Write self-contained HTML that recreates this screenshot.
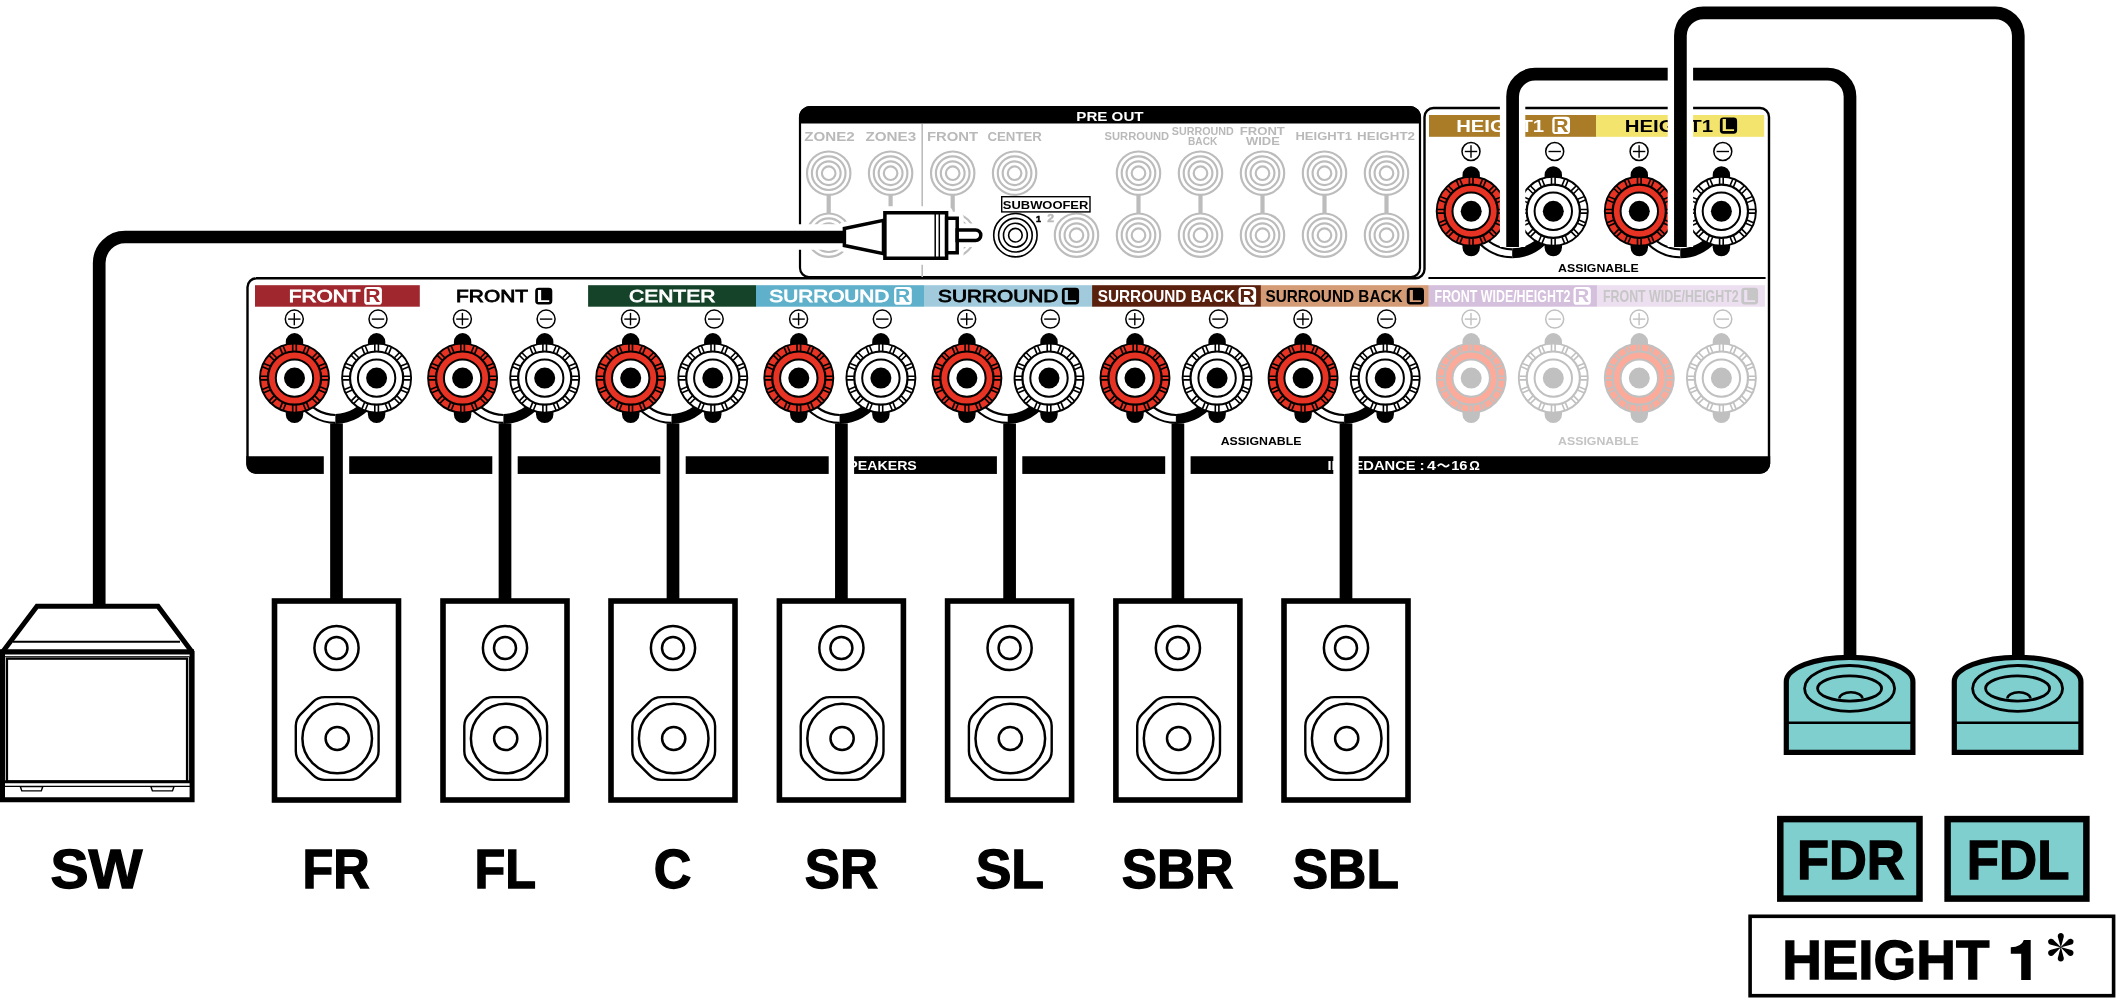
<!DOCTYPE html><html><head><meta charset="utf-8"><title>Speaker connection</title><style>html,body{margin:0;padding:0;background:#fff}svg{display:block;will-change:transform}</style></head><body><svg width="2116" height="998" viewBox="0 0 2116 998" font-family='"Liberation Sans", sans-serif'>
<rect width="2116" height="998" fill="#fff"/>
<g id="preout">
<path d="M800 268V117.5a10.5 10.5 0 0 1 10.5 -10.5H1409.5a10.5 10.5 0 0 1 10.5 10.5V268a9 9 0 0 1 -9 9H809a9 9 0 0 1 -9 -9" fill="#fff" stroke="#000" stroke-width="2.2"/>
<path d="M799 123.5V117.5a11.5 11.5 0 0 1 11.5 -11.5H1409.5a11.5 11.5 0 0 1 11.5 11.5V123.5Z" fill="#000"/>
<text transform="translate(1076.28,120.90) scale(1.2126,1)" font-size="12.50" font-weight="bold" fill="#fff" >PRE OUT</text>
<path d="M922.2 124V277" stroke="#bcbcbc" stroke-width="1.6"/>
<path d="M828.7 194.2V214.2" stroke="#bcbcbc" stroke-width="4.2"/>
<path d="M890.6 194.2V214.2" stroke="#bcbcbc" stroke-width="4.2"/>
<path d="M952.7 194.2V214.2" stroke="#bcbcbc" stroke-width="4.2"/>
<path d="M1138.5 194.2V214.2" stroke="#bcbcbc" stroke-width="4.2"/>
<path d="M1200.5 194.2V214.2" stroke="#bcbcbc" stroke-width="4.2"/>
<path d="M1262.5 194.2V214.2" stroke="#bcbcbc" stroke-width="4.2"/>
<path d="M1324.5 194.2V214.2" stroke="#bcbcbc" stroke-width="4.2"/>
<path d="M1386.5 194.2V214.2" stroke="#bcbcbc" stroke-width="4.2"/>
<circle cx="828.70" cy="173.20" r="21.7" fill="#fff" stroke="#bcbcbc" stroke-width="2.15"/><circle cx="828.70" cy="173.20" r="16.8" fill="#fff" stroke="#bcbcbc" stroke-width="2.15"/><circle cx="828.70" cy="173.20" r="11.9" fill="#fff" stroke="#bcbcbc" stroke-width="2.15"/><circle cx="828.70" cy="173.20" r="6.8" fill="#fff" stroke="#bcbcbc" stroke-width="2.15"/>
<circle cx="828.70" cy="235.20" r="21.7" fill="#fff" stroke="#bcbcbc" stroke-width="2.15"/><circle cx="828.70" cy="235.20" r="16.8" fill="#fff" stroke="#bcbcbc" stroke-width="2.15"/><circle cx="828.70" cy="235.20" r="11.9" fill="#fff" stroke="#bcbcbc" stroke-width="2.15"/><circle cx="828.70" cy="235.20" r="6.8" fill="#fff" stroke="#bcbcbc" stroke-width="2.15"/>
<circle cx="890.60" cy="173.20" r="21.7" fill="#fff" stroke="#bcbcbc" stroke-width="2.15"/><circle cx="890.60" cy="173.20" r="16.8" fill="#fff" stroke="#bcbcbc" stroke-width="2.15"/><circle cx="890.60" cy="173.20" r="11.9" fill="#fff" stroke="#bcbcbc" stroke-width="2.15"/><circle cx="890.60" cy="173.20" r="6.8" fill="#fff" stroke="#bcbcbc" stroke-width="2.15"/>
<circle cx="890.60" cy="235.20" r="21.7" fill="#fff" stroke="#bcbcbc" stroke-width="2.15"/><circle cx="890.60" cy="235.20" r="16.8" fill="#fff" stroke="#bcbcbc" stroke-width="2.15"/><circle cx="890.60" cy="235.20" r="11.9" fill="#fff" stroke="#bcbcbc" stroke-width="2.15"/><circle cx="890.60" cy="235.20" r="6.8" fill="#fff" stroke="#bcbcbc" stroke-width="2.15"/>
<circle cx="952.70" cy="173.20" r="21.7" fill="#fff" stroke="#bcbcbc" stroke-width="2.15"/><circle cx="952.70" cy="173.20" r="16.8" fill="#fff" stroke="#bcbcbc" stroke-width="2.15"/><circle cx="952.70" cy="173.20" r="11.9" fill="#fff" stroke="#bcbcbc" stroke-width="2.15"/><circle cx="952.70" cy="173.20" r="6.8" fill="#fff" stroke="#bcbcbc" stroke-width="2.15"/>
<circle cx="952.70" cy="235.20" r="21.7" fill="#fff" stroke="#bcbcbc" stroke-width="2.15"/><circle cx="952.70" cy="235.20" r="16.8" fill="#fff" stroke="#bcbcbc" stroke-width="2.15"/><circle cx="952.70" cy="235.20" r="11.9" fill="#fff" stroke="#bcbcbc" stroke-width="2.15"/><circle cx="952.70" cy="235.20" r="6.8" fill="#fff" stroke="#bcbcbc" stroke-width="2.15"/>
<circle cx="1014.60" cy="173.20" r="21.7" fill="#fff" stroke="#bcbcbc" stroke-width="2.15"/><circle cx="1014.60" cy="173.20" r="16.8" fill="#fff" stroke="#bcbcbc" stroke-width="2.15"/><circle cx="1014.60" cy="173.20" r="11.9" fill="#fff" stroke="#bcbcbc" stroke-width="2.15"/><circle cx="1014.60" cy="173.20" r="6.8" fill="#fff" stroke="#bcbcbc" stroke-width="2.15"/>
<circle cx="1138.50" cy="173.20" r="21.7" fill="#fff" stroke="#bcbcbc" stroke-width="2.15"/><circle cx="1138.50" cy="173.20" r="16.8" fill="#fff" stroke="#bcbcbc" stroke-width="2.15"/><circle cx="1138.50" cy="173.20" r="11.9" fill="#fff" stroke="#bcbcbc" stroke-width="2.15"/><circle cx="1138.50" cy="173.20" r="6.8" fill="#fff" stroke="#bcbcbc" stroke-width="2.15"/>
<circle cx="1138.50" cy="235.20" r="21.7" fill="#fff" stroke="#bcbcbc" stroke-width="2.15"/><circle cx="1138.50" cy="235.20" r="16.8" fill="#fff" stroke="#bcbcbc" stroke-width="2.15"/><circle cx="1138.50" cy="235.20" r="11.9" fill="#fff" stroke="#bcbcbc" stroke-width="2.15"/><circle cx="1138.50" cy="235.20" r="6.8" fill="#fff" stroke="#bcbcbc" stroke-width="2.15"/>
<circle cx="1200.50" cy="173.20" r="21.7" fill="#fff" stroke="#bcbcbc" stroke-width="2.15"/><circle cx="1200.50" cy="173.20" r="16.8" fill="#fff" stroke="#bcbcbc" stroke-width="2.15"/><circle cx="1200.50" cy="173.20" r="11.9" fill="#fff" stroke="#bcbcbc" stroke-width="2.15"/><circle cx="1200.50" cy="173.20" r="6.8" fill="#fff" stroke="#bcbcbc" stroke-width="2.15"/>
<circle cx="1200.50" cy="235.20" r="21.7" fill="#fff" stroke="#bcbcbc" stroke-width="2.15"/><circle cx="1200.50" cy="235.20" r="16.8" fill="#fff" stroke="#bcbcbc" stroke-width="2.15"/><circle cx="1200.50" cy="235.20" r="11.9" fill="#fff" stroke="#bcbcbc" stroke-width="2.15"/><circle cx="1200.50" cy="235.20" r="6.8" fill="#fff" stroke="#bcbcbc" stroke-width="2.15"/>
<circle cx="1262.50" cy="173.20" r="21.7" fill="#fff" stroke="#bcbcbc" stroke-width="2.15"/><circle cx="1262.50" cy="173.20" r="16.8" fill="#fff" stroke="#bcbcbc" stroke-width="2.15"/><circle cx="1262.50" cy="173.20" r="11.9" fill="#fff" stroke="#bcbcbc" stroke-width="2.15"/><circle cx="1262.50" cy="173.20" r="6.8" fill="#fff" stroke="#bcbcbc" stroke-width="2.15"/>
<circle cx="1262.50" cy="235.20" r="21.7" fill="#fff" stroke="#bcbcbc" stroke-width="2.15"/><circle cx="1262.50" cy="235.20" r="16.8" fill="#fff" stroke="#bcbcbc" stroke-width="2.15"/><circle cx="1262.50" cy="235.20" r="11.9" fill="#fff" stroke="#bcbcbc" stroke-width="2.15"/><circle cx="1262.50" cy="235.20" r="6.8" fill="#fff" stroke="#bcbcbc" stroke-width="2.15"/>
<circle cx="1324.50" cy="173.20" r="21.7" fill="#fff" stroke="#bcbcbc" stroke-width="2.15"/><circle cx="1324.50" cy="173.20" r="16.8" fill="#fff" stroke="#bcbcbc" stroke-width="2.15"/><circle cx="1324.50" cy="173.20" r="11.9" fill="#fff" stroke="#bcbcbc" stroke-width="2.15"/><circle cx="1324.50" cy="173.20" r="6.8" fill="#fff" stroke="#bcbcbc" stroke-width="2.15"/>
<circle cx="1324.50" cy="235.20" r="21.7" fill="#fff" stroke="#bcbcbc" stroke-width="2.15"/><circle cx="1324.50" cy="235.20" r="16.8" fill="#fff" stroke="#bcbcbc" stroke-width="2.15"/><circle cx="1324.50" cy="235.20" r="11.9" fill="#fff" stroke="#bcbcbc" stroke-width="2.15"/><circle cx="1324.50" cy="235.20" r="6.8" fill="#fff" stroke="#bcbcbc" stroke-width="2.15"/>
<circle cx="1386.50" cy="173.20" r="21.7" fill="#fff" stroke="#bcbcbc" stroke-width="2.15"/><circle cx="1386.50" cy="173.20" r="16.8" fill="#fff" stroke="#bcbcbc" stroke-width="2.15"/><circle cx="1386.50" cy="173.20" r="11.9" fill="#fff" stroke="#bcbcbc" stroke-width="2.15"/><circle cx="1386.50" cy="173.20" r="6.8" fill="#fff" stroke="#bcbcbc" stroke-width="2.15"/>
<circle cx="1386.50" cy="235.20" r="21.7" fill="#fff" stroke="#bcbcbc" stroke-width="2.15"/><circle cx="1386.50" cy="235.20" r="16.8" fill="#fff" stroke="#bcbcbc" stroke-width="2.15"/><circle cx="1386.50" cy="235.20" r="11.9" fill="#fff" stroke="#bcbcbc" stroke-width="2.15"/><circle cx="1386.50" cy="235.20" r="6.8" fill="#fff" stroke="#bcbcbc" stroke-width="2.15"/>
<circle cx="1076.50" cy="235.20" r="21.7" fill="#fff" stroke="#bcbcbc" stroke-width="2.15"/><circle cx="1076.50" cy="235.20" r="16.8" fill="#fff" stroke="#bcbcbc" stroke-width="2.15"/><circle cx="1076.50" cy="235.20" r="11.9" fill="#fff" stroke="#bcbcbc" stroke-width="2.15"/><circle cx="1076.50" cy="235.20" r="6.8" fill="#fff" stroke="#bcbcbc" stroke-width="2.15"/>
<circle cx="1015.40" cy="235.20" r="21.7" fill="#fff" stroke="#000" stroke-width="1.6"/><circle cx="1015.40" cy="235.20" r="16.8" fill="#fff" stroke="#000" stroke-width="1.6"/><circle cx="1015.40" cy="235.20" r="11.9" fill="#fff" stroke="#000" stroke-width="1.6"/><circle cx="1015.40" cy="235.20" r="6.8" fill="#fff" stroke="#000" stroke-width="1.6"/>
<text transform="translate(804.24,140.60) scale(1.2427,1)" font-size="12.21" font-weight="bold" fill="#b9b9b9" >ZONE2</text>
<text transform="translate(865.44,140.60) scale(1.2483,1)" font-size="12.21" font-weight="bold" fill="#b9b9b9" >ZONE3</text>
<text transform="translate(926.90,140.60) scale(1.2194,1)" font-size="12.21" font-weight="bold" fill="#b9b9b9" >FRONT</text>
<text transform="translate(987.47,140.60) scale(1.0860,1)" font-size="12.21" font-weight="bold" fill="#b9b9b9" >CENTER</text>
<text transform="translate(1104.56,140.40) scale(0.9499,1)" font-size="11.77" font-weight="bold" fill="#b9b9b9" >SURROUND</text>
<text transform="translate(1171.78,135.30) scale(1.0251,1)" font-size="10.47" font-weight="bold" fill="#b9b9b9" >SURROUND</text>
<text transform="translate(1188.02,144.60) scale(0.9683,1)" font-size="10.47" font-weight="bold" fill="#b9b9b9" >BACK</text>
<text transform="translate(1239.72,135.30) scale(1.2523,1)" font-size="10.47" font-weight="bold" fill="#b9b9b9" >FRONT</text>
<text transform="translate(1246.07,144.60) scale(1.2344,1)" font-size="10.47" font-weight="bold" fill="#b9b9b9" >WIDE</text>
<text transform="translate(1295.42,140.00) scale(1.2133,1)" font-size="10.76" font-weight="bold" fill="#b9b9b9" >HEIGHT1</text>
<text transform="translate(1357.10,140.00) scale(1.2433,1)" font-size="10.76" font-weight="bold" fill="#b9b9b9" >HEIGHT2</text>
<rect x="1001.7" y="196.7" width="88.3" height="15.2" fill="#fff" stroke="#000" stroke-width="1.4"/>
<text transform="translate(1002.81,208.50) scale(1.2367,1)" font-size="10.47" font-weight="bold" fill="#000" >SUBWOOFER</text>
<text transform="translate(1035.91,222.00) scale(0.9046,1)" font-size="9.88" font-weight="bold" fill="#000" stroke="#000" stroke-width="0.6" stroke-linejoin="miter" >1</text>
<text transform="translate(1047.31,222.00) scale(1.2113,1)" font-size="10.17" font-weight="bold" fill="#b9b9b9" stroke="#b9b9b9" stroke-width="0.4" stroke-linejoin="miter" >2</text>
</g>
<g id="mainpanel">
<path d="M256 278.3H1415.5a9 9 0 0 0 9 -9V117a9 9 0 0 1 9 -9H1760a9 9 0 0 1 9 9V463.5a9 9 0 0 1 -9 9H256.5a9 9 0 0 1 -9 -9V287.3a9 9 0 0 1 9 -9Z" fill="#fff" stroke="#000" stroke-width="2.4"/>
<path d="M246.3 456.3H1770.2V463.5a10.2 10.2 0 0 1 -10.2 10.2H255.3a9 9 0 0 1 -9 -9Z" fill="#000"/>
<text transform="translate(838.87,469.60) scale(1.0849,1)" font-size="13.08" font-weight="bold" fill="#fff" >SPEAKERS</text>
<text transform="translate(1327.41,469.60) scale(1.1261,1)" font-size="13.08" font-weight="bold" fill="#fff" >IMPEDANCE</text>
<text transform="translate(1419.43,469.60) scale(1.1802,1)" font-size="13.08" font-weight="bold" fill="#fff" >:</text>
<text transform="translate(1427.06,469.60) scale(1.2145,1)" font-size="13.08" font-weight="bold" fill="#fff" >4</text>
<path d="M1437.8 466.3C1439.6 463.6 1441.8 463.6 1443.5 465.4C1445.2 467.2 1447.4 467.2 1449.1 464.5" fill="none" stroke="#fff" stroke-width="1.9"/>
<text transform="translate(1451.18,469.60) scale(1.1250,1)" font-size="13.08" font-weight="bold" fill="#fff" >16</text>
<text transform="translate(1469.37,469.60) scale(1.0316,1)" font-size="12.79" font-weight="bold" fill="#fff" >Ω</text>
<path d="M1428.4 278.1H1765.6" stroke="#000" stroke-width="2"/>
<text transform="translate(1558.09,272.40) scale(1.0597,1)" font-size="11.63" font-weight="bold" fill="#000" >ASSIGNABLE</text>
<text transform="translate(1220.69,445.00) scale(1.0610,1)" font-size="11.63" font-weight="bold" fill="#000" >ASSIGNABLE</text>
<text transform="translate(1558.09,445.00) scale(1.0597,1)" font-size="11.63" font-weight="bold" fill="#c4c4c4" >ASSIGNABLE</text>
<rect x="255.0" y="285.2" width="164.80" height="21.50" fill="#a0272d"/>
<text transform="translate(288.70,302.00) scale(1.2938,1)" font-size="16.13" font-weight="normal" fill="#fff" stroke="#fff" stroke-width="0.8" stroke-linejoin="miter" >FRONT</text>
<rect x="364.20" y="286.90" width="17.70" height="17.90" rx="3.4" fill="#fff"/><text transform="translate(365.17,302.00) scale(1.1299,1)" font-size="18.75" font-weight="bold" fill="#a0272d" >R</text>
<text transform="translate(456.10,302.00) scale(1.2938,1)" font-size="16.13" font-weight="normal" fill="#000" stroke="#000" stroke-width="0.8" stroke-linejoin="miter" >FRONT</text>
<rect x="535.20" y="287.70" width="17.10" height="16.75" rx="3.4" fill="#000"/><text transform="translate(536.62,302.00) scale(1.2635,1)" font-size="17.30" font-weight="bold" fill="#fff" >L</text>
<rect x="588.1" y="285.2" width="168.10" height="21.50" fill="#14432a"/>
<text transform="translate(629.07,302.00) scale(1.3008,1)" font-size="16.13" font-weight="normal" fill="#fff" stroke="#fff" stroke-width="0.8" stroke-linejoin="miter" >CENTER</text>
<rect x="756.0" y="285.2" width="168.20" height="21.50" fill="#5fb0ca"/>
<text transform="translate(769.28,302.00) scale(1.2884,1)" font-size="16.13" font-weight="normal" fill="#fff" stroke="#fff" stroke-width="0.8" stroke-linejoin="miter" >SURROUND</text>
<rect x="894.10" y="286.90" width="17.70" height="17.90" rx="3.4" fill="#fff"/><text transform="translate(895.07,302.00) scale(1.1299,1)" font-size="18.75" font-weight="bold" fill="#5fb0ca" >R</text>
<rect x="924.0" y="285.2" width="168.30" height="21.50" fill="#a1cadd"/>
<text transform="translate(938.08,302.00) scale(1.2894,1)" font-size="16.13" font-weight="normal" fill="#000" stroke="#000" stroke-width="0.8" stroke-linejoin="miter" >SURROUND</text>
<rect x="1061.90" y="287.70" width="17.20" height="16.75" rx="3.4" fill="#000"/><text transform="translate(1063.31,302.00) scale(1.2748,1)" font-size="17.30" font-weight="bold" fill="#a1cadd" >L</text>
<rect x="1092.1" y="285.2" width="168.90" height="21.50" fill="#5a200e"/>
<text transform="translate(1097.64,302.00) scale(0.8888,1)" font-size="17.30" font-weight="bold" fill="#fff" >SURROUND BACK</text>
<rect x="1238.50" y="286.90" width="17.60" height="17.90" rx="3.4" fill="#fff"/><text transform="translate(1239.48,302.00) scale(1.1215,1)" font-size="18.75" font-weight="bold" fill="#5a200e" >R</text>
<rect x="1260.8" y="285.2" width="168.00" height="21.50" fill="#d39b76"/>
<text transform="translate(1265.44,302.00) scale(0.8875,1)" font-size="17.30" font-weight="bold" fill="#000" >SURROUND BACK</text>
<rect x="1406.80" y="287.70" width="17.20" height="16.75" rx="3.4" fill="#000"/><text transform="translate(1408.21,302.00) scale(1.2748,1)" font-size="17.30" font-weight="bold" fill="#d39b76" >L</text>
<rect x="1428.8" y="285.2" width="168.20" height="21.50" fill="#d4bfdd"/>
<text transform="translate(1434.56,302.00) scale(0.7182,1)" font-size="17.30" font-weight="bold" fill="#fff" >FRONT WIDE/HEIGHT2</text>
<rect x="1573.50" y="286.90" width="17.30" height="17.90" rx="3.4" fill="#fff"/><text transform="translate(1574.51,302.00) scale(1.0962,1)" font-size="18.75" font-weight="bold" fill="#d4bfdd" >R</text>
<rect x="1596.9" y="285.2" width="168.00" height="21.50" fill="#ecdff0"/>
<text transform="translate(1602.96,302.00) scale(0.7172,1)" font-size="17.30" font-weight="bold" fill="#c6c6c6" >FRONT WIDE/HEIGHT2</text>
<rect x="1741.30" y="287.70" width="16.80" height="16.75" rx="3.4" fill="#c6c6c6"/><text transform="translate(1742.76,302.00) scale(1.2296,1)" font-size="17.30" font-weight="bold" fill="#ecdff0" >L</text>
<rect x="1429" y="115.0" width="167.3" height="21.80" fill="#aa7c28"/>
<rect x="1596.2" y="115.0" width="168" height="21.80" fill="#f2e46d"/>
<text transform="translate(1456.13,131.60) scale(1.1934,1)" font-size="17.01" font-weight="bold" fill="#fff" >HEIGHT1</text>
<rect x="1552.30" y="116.80" width="17.70" height="17.30" rx="3.4" fill="#fff"/><text transform="translate(1553.27,132.00) scale(1.1299,1)" font-size="18.75" font-weight="bold" fill="#aa7c28" >R</text>
<text transform="translate(1624.72,131.60) scale(1.2004,1)" font-size="17.01" font-weight="bold" fill="#000" >HEIGHT1</text>
<rect x="1719.90" y="117.60" width="17.20" height="16.15" rx="3.4" fill="#000"/><text transform="translate(1721.31,131.00) scale(1.2748,1)" font-size="17.30" font-weight="bold" fill="#f2e46d" >L</text>
</g>
<g id="terminals">
<circle cx="294.30" cy="319.1" r="9" fill="#fff" stroke="#000" stroke-width="1.5"/><path d="M288.10 319.1H300.50" stroke="#000" stroke-width="1.4"/><path d="M294.30 312.90000000000003V325.3" stroke="#000" stroke-width="1.4"/><circle cx="378.00" cy="319.1" r="9" fill="#fff" stroke="#000" stroke-width="1.5"/><path d="M371.80 319.1H384.20" stroke="#000" stroke-width="1.4"/>
<path d="M300.22 398.50A40.8 40.8 0 0 0 335.55 418.90" fill="none" stroke="#000" stroke-width="10"/><path d="M300.22 398.50A40.8 40.8 0 0 0 335.35 418.90" fill="none" stroke="#fff" stroke-width="5.8"/><path d="M335.55 418.90A40.8 40.8 0 0 0 370.88 398.50" fill="none" stroke="#000" stroke-width="10"/>
<g transform="translate(294.50,378.10)"><rect x="-8.7" y="-45" width="17.4" height="90" rx="8.7" fill="#000"/><circle r="34.5" fill="#e63323" stroke="#000" stroke-width="1.9"/><path transform="rotate(0)" d="M-1.8 -34V-27M1.8 -34V-27" stroke="#000" stroke-width="1.6"/><path transform="rotate(22.5)" d="M-1.8 -34V-27M1.8 -34V-27" stroke="#000" stroke-width="1.6"/><path transform="rotate(45)" d="M-1.8 -34V-27M1.8 -34V-27" stroke="#000" stroke-width="1.6"/><path transform="rotate(67.5)" d="M-1.8 -34V-27M1.8 -34V-27" stroke="#000" stroke-width="1.6"/><path transform="rotate(90)" d="M-1.8 -34V-27M1.8 -34V-27" stroke="#000" stroke-width="1.6"/><path transform="rotate(112.5)" d="M-1.8 -34V-27M1.8 -34V-27" stroke="#000" stroke-width="1.6"/><path transform="rotate(135)" d="M-1.8 -34V-27M1.8 -34V-27" stroke="#000" stroke-width="1.6"/><path transform="rotate(157.5)" d="M-1.8 -34V-27M1.8 -34V-27" stroke="#000" stroke-width="1.6"/><path transform="rotate(180)" d="M-1.8 -34V-27M1.8 -34V-27" stroke="#000" stroke-width="1.6"/><path transform="rotate(202.5)" d="M-1.8 -34V-27M1.8 -34V-27" stroke="#000" stroke-width="1.6"/><path transform="rotate(225)" d="M-1.8 -34V-27M1.8 -34V-27" stroke="#000" stroke-width="1.6"/><path transform="rotate(247.5)" d="M-1.8 -34V-27M1.8 -34V-27" stroke="#000" stroke-width="1.6"/><path transform="rotate(270)" d="M-1.8 -34V-27M1.8 -34V-27" stroke="#000" stroke-width="1.6"/><path transform="rotate(292.5)" d="M-1.8 -34V-27M1.8 -34V-27" stroke="#000" stroke-width="1.6"/><path transform="rotate(315)" d="M-1.8 -34V-27M1.8 -34V-27" stroke="#000" stroke-width="1.6"/><path transform="rotate(337.5)" d="M-1.8 -34V-27M1.8 -34V-27" stroke="#000" stroke-width="1.6"/><circle r="26.6" fill="#e63323" stroke="#000" stroke-width="2.2"/><circle r="18.7" fill="#fff" stroke="#000" stroke-width="2"/><circle r="10.5" fill="#000"/></g><g transform="translate(376.60,378.10)"><rect x="-8.7" y="-45" width="17.4" height="90" rx="8.7" fill="#000"/><circle r="34.5" fill="#fff" stroke="#000" stroke-width="1.9"/><path transform="rotate(0)" d="M-1.8 -34V-27M1.8 -34V-27" stroke="#000" stroke-width="1.6"/><path transform="rotate(22.5)" d="M-1.8 -34V-27M1.8 -34V-27" stroke="#000" stroke-width="1.6"/><path transform="rotate(45)" d="M-1.8 -34V-27M1.8 -34V-27" stroke="#000" stroke-width="1.6"/><path transform="rotate(67.5)" d="M-1.8 -34V-27M1.8 -34V-27" stroke="#000" stroke-width="1.6"/><path transform="rotate(90)" d="M-1.8 -34V-27M1.8 -34V-27" stroke="#000" stroke-width="1.6"/><path transform="rotate(112.5)" d="M-1.8 -34V-27M1.8 -34V-27" stroke="#000" stroke-width="1.6"/><path transform="rotate(135)" d="M-1.8 -34V-27M1.8 -34V-27" stroke="#000" stroke-width="1.6"/><path transform="rotate(157.5)" d="M-1.8 -34V-27M1.8 -34V-27" stroke="#000" stroke-width="1.6"/><path transform="rotate(180)" d="M-1.8 -34V-27M1.8 -34V-27" stroke="#000" stroke-width="1.6"/><path transform="rotate(202.5)" d="M-1.8 -34V-27M1.8 -34V-27" stroke="#000" stroke-width="1.6"/><path transform="rotate(225)" d="M-1.8 -34V-27M1.8 -34V-27" stroke="#000" stroke-width="1.6"/><path transform="rotate(247.5)" d="M-1.8 -34V-27M1.8 -34V-27" stroke="#000" stroke-width="1.6"/><path transform="rotate(270)" d="M-1.8 -34V-27M1.8 -34V-27" stroke="#000" stroke-width="1.6"/><path transform="rotate(292.5)" d="M-1.8 -34V-27M1.8 -34V-27" stroke="#000" stroke-width="1.6"/><path transform="rotate(315)" d="M-1.8 -34V-27M1.8 -34V-27" stroke="#000" stroke-width="1.6"/><path transform="rotate(337.5)" d="M-1.8 -34V-27M1.8 -34V-27" stroke="#000" stroke-width="1.6"/><circle r="26.6" fill="#fff" stroke="#000" stroke-width="2.2"/><circle r="18.7" fill="#fff" stroke="#000" stroke-width="2"/><circle r="10.5" fill="#000"/></g>
<circle cx="462.40" cy="319.1" r="9" fill="#fff" stroke="#000" stroke-width="1.5"/><path d="M456.20 319.1H468.60" stroke="#000" stroke-width="1.4"/><path d="M462.40 312.90000000000003V325.3" stroke="#000" stroke-width="1.4"/><circle cx="546.10" cy="319.1" r="9" fill="#fff" stroke="#000" stroke-width="1.5"/><path d="M539.90 319.1H552.30" stroke="#000" stroke-width="1.4"/>
<path d="M468.32 398.50A40.8 40.8 0 0 0 503.65 418.90" fill="none" stroke="#000" stroke-width="10"/><path d="M468.32 398.50A40.8 40.8 0 0 0 503.45 418.90" fill="none" stroke="#fff" stroke-width="5.8"/><path d="M503.65 418.90A40.8 40.8 0 0 0 538.98 398.50" fill="none" stroke="#000" stroke-width="10"/>
<g transform="translate(462.60,378.10)"><rect x="-8.7" y="-45" width="17.4" height="90" rx="8.7" fill="#000"/><circle r="34.5" fill="#e63323" stroke="#000" stroke-width="1.9"/><path transform="rotate(0)" d="M-1.8 -34V-27M1.8 -34V-27" stroke="#000" stroke-width="1.6"/><path transform="rotate(22.5)" d="M-1.8 -34V-27M1.8 -34V-27" stroke="#000" stroke-width="1.6"/><path transform="rotate(45)" d="M-1.8 -34V-27M1.8 -34V-27" stroke="#000" stroke-width="1.6"/><path transform="rotate(67.5)" d="M-1.8 -34V-27M1.8 -34V-27" stroke="#000" stroke-width="1.6"/><path transform="rotate(90)" d="M-1.8 -34V-27M1.8 -34V-27" stroke="#000" stroke-width="1.6"/><path transform="rotate(112.5)" d="M-1.8 -34V-27M1.8 -34V-27" stroke="#000" stroke-width="1.6"/><path transform="rotate(135)" d="M-1.8 -34V-27M1.8 -34V-27" stroke="#000" stroke-width="1.6"/><path transform="rotate(157.5)" d="M-1.8 -34V-27M1.8 -34V-27" stroke="#000" stroke-width="1.6"/><path transform="rotate(180)" d="M-1.8 -34V-27M1.8 -34V-27" stroke="#000" stroke-width="1.6"/><path transform="rotate(202.5)" d="M-1.8 -34V-27M1.8 -34V-27" stroke="#000" stroke-width="1.6"/><path transform="rotate(225)" d="M-1.8 -34V-27M1.8 -34V-27" stroke="#000" stroke-width="1.6"/><path transform="rotate(247.5)" d="M-1.8 -34V-27M1.8 -34V-27" stroke="#000" stroke-width="1.6"/><path transform="rotate(270)" d="M-1.8 -34V-27M1.8 -34V-27" stroke="#000" stroke-width="1.6"/><path transform="rotate(292.5)" d="M-1.8 -34V-27M1.8 -34V-27" stroke="#000" stroke-width="1.6"/><path transform="rotate(315)" d="M-1.8 -34V-27M1.8 -34V-27" stroke="#000" stroke-width="1.6"/><path transform="rotate(337.5)" d="M-1.8 -34V-27M1.8 -34V-27" stroke="#000" stroke-width="1.6"/><circle r="26.6" fill="#e63323" stroke="#000" stroke-width="2.2"/><circle r="18.7" fill="#fff" stroke="#000" stroke-width="2"/><circle r="10.5" fill="#000"/></g><g transform="translate(544.70,378.10)"><rect x="-8.7" y="-45" width="17.4" height="90" rx="8.7" fill="#000"/><circle r="34.5" fill="#fff" stroke="#000" stroke-width="1.9"/><path transform="rotate(0)" d="M-1.8 -34V-27M1.8 -34V-27" stroke="#000" stroke-width="1.6"/><path transform="rotate(22.5)" d="M-1.8 -34V-27M1.8 -34V-27" stroke="#000" stroke-width="1.6"/><path transform="rotate(45)" d="M-1.8 -34V-27M1.8 -34V-27" stroke="#000" stroke-width="1.6"/><path transform="rotate(67.5)" d="M-1.8 -34V-27M1.8 -34V-27" stroke="#000" stroke-width="1.6"/><path transform="rotate(90)" d="M-1.8 -34V-27M1.8 -34V-27" stroke="#000" stroke-width="1.6"/><path transform="rotate(112.5)" d="M-1.8 -34V-27M1.8 -34V-27" stroke="#000" stroke-width="1.6"/><path transform="rotate(135)" d="M-1.8 -34V-27M1.8 -34V-27" stroke="#000" stroke-width="1.6"/><path transform="rotate(157.5)" d="M-1.8 -34V-27M1.8 -34V-27" stroke="#000" stroke-width="1.6"/><path transform="rotate(180)" d="M-1.8 -34V-27M1.8 -34V-27" stroke="#000" stroke-width="1.6"/><path transform="rotate(202.5)" d="M-1.8 -34V-27M1.8 -34V-27" stroke="#000" stroke-width="1.6"/><path transform="rotate(225)" d="M-1.8 -34V-27M1.8 -34V-27" stroke="#000" stroke-width="1.6"/><path transform="rotate(247.5)" d="M-1.8 -34V-27M1.8 -34V-27" stroke="#000" stroke-width="1.6"/><path transform="rotate(270)" d="M-1.8 -34V-27M1.8 -34V-27" stroke="#000" stroke-width="1.6"/><path transform="rotate(292.5)" d="M-1.8 -34V-27M1.8 -34V-27" stroke="#000" stroke-width="1.6"/><path transform="rotate(315)" d="M-1.8 -34V-27M1.8 -34V-27" stroke="#000" stroke-width="1.6"/><path transform="rotate(337.5)" d="M-1.8 -34V-27M1.8 -34V-27" stroke="#000" stroke-width="1.6"/><circle r="26.6" fill="#fff" stroke="#000" stroke-width="2.2"/><circle r="18.7" fill="#fff" stroke="#000" stroke-width="2"/><circle r="10.5" fill="#000"/></g>
<circle cx="630.50" cy="319.1" r="9" fill="#fff" stroke="#000" stroke-width="1.5"/><path d="M624.30 319.1H636.70" stroke="#000" stroke-width="1.4"/><path d="M630.50 312.90000000000003V325.3" stroke="#000" stroke-width="1.4"/><circle cx="714.20" cy="319.1" r="9" fill="#fff" stroke="#000" stroke-width="1.5"/><path d="M708.00 319.1H720.40" stroke="#000" stroke-width="1.4"/>
<path d="M636.42 398.50A40.8 40.8 0 0 0 671.75 418.90" fill="none" stroke="#000" stroke-width="10"/><path d="M636.42 398.50A40.8 40.8 0 0 0 671.55 418.90" fill="none" stroke="#fff" stroke-width="5.8"/><path d="M671.75 418.90A40.8 40.8 0 0 0 707.08 398.50" fill="none" stroke="#000" stroke-width="10"/>
<g transform="translate(630.70,378.10)"><rect x="-8.7" y="-45" width="17.4" height="90" rx="8.7" fill="#000"/><circle r="34.5" fill="#e63323" stroke="#000" stroke-width="1.9"/><path transform="rotate(0)" d="M-1.8 -34V-27M1.8 -34V-27" stroke="#000" stroke-width="1.6"/><path transform="rotate(22.5)" d="M-1.8 -34V-27M1.8 -34V-27" stroke="#000" stroke-width="1.6"/><path transform="rotate(45)" d="M-1.8 -34V-27M1.8 -34V-27" stroke="#000" stroke-width="1.6"/><path transform="rotate(67.5)" d="M-1.8 -34V-27M1.8 -34V-27" stroke="#000" stroke-width="1.6"/><path transform="rotate(90)" d="M-1.8 -34V-27M1.8 -34V-27" stroke="#000" stroke-width="1.6"/><path transform="rotate(112.5)" d="M-1.8 -34V-27M1.8 -34V-27" stroke="#000" stroke-width="1.6"/><path transform="rotate(135)" d="M-1.8 -34V-27M1.8 -34V-27" stroke="#000" stroke-width="1.6"/><path transform="rotate(157.5)" d="M-1.8 -34V-27M1.8 -34V-27" stroke="#000" stroke-width="1.6"/><path transform="rotate(180)" d="M-1.8 -34V-27M1.8 -34V-27" stroke="#000" stroke-width="1.6"/><path transform="rotate(202.5)" d="M-1.8 -34V-27M1.8 -34V-27" stroke="#000" stroke-width="1.6"/><path transform="rotate(225)" d="M-1.8 -34V-27M1.8 -34V-27" stroke="#000" stroke-width="1.6"/><path transform="rotate(247.5)" d="M-1.8 -34V-27M1.8 -34V-27" stroke="#000" stroke-width="1.6"/><path transform="rotate(270)" d="M-1.8 -34V-27M1.8 -34V-27" stroke="#000" stroke-width="1.6"/><path transform="rotate(292.5)" d="M-1.8 -34V-27M1.8 -34V-27" stroke="#000" stroke-width="1.6"/><path transform="rotate(315)" d="M-1.8 -34V-27M1.8 -34V-27" stroke="#000" stroke-width="1.6"/><path transform="rotate(337.5)" d="M-1.8 -34V-27M1.8 -34V-27" stroke="#000" stroke-width="1.6"/><circle r="26.6" fill="#e63323" stroke="#000" stroke-width="2.2"/><circle r="18.7" fill="#fff" stroke="#000" stroke-width="2"/><circle r="10.5" fill="#000"/></g><g transform="translate(712.80,378.10)"><rect x="-8.7" y="-45" width="17.4" height="90" rx="8.7" fill="#000"/><circle r="34.5" fill="#fff" stroke="#000" stroke-width="1.9"/><path transform="rotate(0)" d="M-1.8 -34V-27M1.8 -34V-27" stroke="#000" stroke-width="1.6"/><path transform="rotate(22.5)" d="M-1.8 -34V-27M1.8 -34V-27" stroke="#000" stroke-width="1.6"/><path transform="rotate(45)" d="M-1.8 -34V-27M1.8 -34V-27" stroke="#000" stroke-width="1.6"/><path transform="rotate(67.5)" d="M-1.8 -34V-27M1.8 -34V-27" stroke="#000" stroke-width="1.6"/><path transform="rotate(90)" d="M-1.8 -34V-27M1.8 -34V-27" stroke="#000" stroke-width="1.6"/><path transform="rotate(112.5)" d="M-1.8 -34V-27M1.8 -34V-27" stroke="#000" stroke-width="1.6"/><path transform="rotate(135)" d="M-1.8 -34V-27M1.8 -34V-27" stroke="#000" stroke-width="1.6"/><path transform="rotate(157.5)" d="M-1.8 -34V-27M1.8 -34V-27" stroke="#000" stroke-width="1.6"/><path transform="rotate(180)" d="M-1.8 -34V-27M1.8 -34V-27" stroke="#000" stroke-width="1.6"/><path transform="rotate(202.5)" d="M-1.8 -34V-27M1.8 -34V-27" stroke="#000" stroke-width="1.6"/><path transform="rotate(225)" d="M-1.8 -34V-27M1.8 -34V-27" stroke="#000" stroke-width="1.6"/><path transform="rotate(247.5)" d="M-1.8 -34V-27M1.8 -34V-27" stroke="#000" stroke-width="1.6"/><path transform="rotate(270)" d="M-1.8 -34V-27M1.8 -34V-27" stroke="#000" stroke-width="1.6"/><path transform="rotate(292.5)" d="M-1.8 -34V-27M1.8 -34V-27" stroke="#000" stroke-width="1.6"/><path transform="rotate(315)" d="M-1.8 -34V-27M1.8 -34V-27" stroke="#000" stroke-width="1.6"/><path transform="rotate(337.5)" d="M-1.8 -34V-27M1.8 -34V-27" stroke="#000" stroke-width="1.6"/><circle r="26.6" fill="#fff" stroke="#000" stroke-width="2.2"/><circle r="18.7" fill="#fff" stroke="#000" stroke-width="2"/><circle r="10.5" fill="#000"/></g>
<circle cx="798.60" cy="319.1" r="9" fill="#fff" stroke="#000" stroke-width="1.5"/><path d="M792.40 319.1H804.80" stroke="#000" stroke-width="1.4"/><path d="M798.60 312.90000000000003V325.3" stroke="#000" stroke-width="1.4"/><circle cx="882.30" cy="319.1" r="9" fill="#fff" stroke="#000" stroke-width="1.5"/><path d="M876.10 319.1H888.50" stroke="#000" stroke-width="1.4"/>
<path d="M804.52 398.50A40.8 40.8 0 0 0 839.85 418.90" fill="none" stroke="#000" stroke-width="10"/><path d="M804.52 398.50A40.8 40.8 0 0 0 839.65 418.90" fill="none" stroke="#fff" stroke-width="5.8"/><path d="M839.85 418.90A40.8 40.8 0 0 0 875.18 398.50" fill="none" stroke="#000" stroke-width="10"/>
<g transform="translate(798.80,378.10)"><rect x="-8.7" y="-45" width="17.4" height="90" rx="8.7" fill="#000"/><circle r="34.5" fill="#e63323" stroke="#000" stroke-width="1.9"/><path transform="rotate(0)" d="M-1.8 -34V-27M1.8 -34V-27" stroke="#000" stroke-width="1.6"/><path transform="rotate(22.5)" d="M-1.8 -34V-27M1.8 -34V-27" stroke="#000" stroke-width="1.6"/><path transform="rotate(45)" d="M-1.8 -34V-27M1.8 -34V-27" stroke="#000" stroke-width="1.6"/><path transform="rotate(67.5)" d="M-1.8 -34V-27M1.8 -34V-27" stroke="#000" stroke-width="1.6"/><path transform="rotate(90)" d="M-1.8 -34V-27M1.8 -34V-27" stroke="#000" stroke-width="1.6"/><path transform="rotate(112.5)" d="M-1.8 -34V-27M1.8 -34V-27" stroke="#000" stroke-width="1.6"/><path transform="rotate(135)" d="M-1.8 -34V-27M1.8 -34V-27" stroke="#000" stroke-width="1.6"/><path transform="rotate(157.5)" d="M-1.8 -34V-27M1.8 -34V-27" stroke="#000" stroke-width="1.6"/><path transform="rotate(180)" d="M-1.8 -34V-27M1.8 -34V-27" stroke="#000" stroke-width="1.6"/><path transform="rotate(202.5)" d="M-1.8 -34V-27M1.8 -34V-27" stroke="#000" stroke-width="1.6"/><path transform="rotate(225)" d="M-1.8 -34V-27M1.8 -34V-27" stroke="#000" stroke-width="1.6"/><path transform="rotate(247.5)" d="M-1.8 -34V-27M1.8 -34V-27" stroke="#000" stroke-width="1.6"/><path transform="rotate(270)" d="M-1.8 -34V-27M1.8 -34V-27" stroke="#000" stroke-width="1.6"/><path transform="rotate(292.5)" d="M-1.8 -34V-27M1.8 -34V-27" stroke="#000" stroke-width="1.6"/><path transform="rotate(315)" d="M-1.8 -34V-27M1.8 -34V-27" stroke="#000" stroke-width="1.6"/><path transform="rotate(337.5)" d="M-1.8 -34V-27M1.8 -34V-27" stroke="#000" stroke-width="1.6"/><circle r="26.6" fill="#e63323" stroke="#000" stroke-width="2.2"/><circle r="18.7" fill="#fff" stroke="#000" stroke-width="2"/><circle r="10.5" fill="#000"/></g><g transform="translate(880.90,378.10)"><rect x="-8.7" y="-45" width="17.4" height="90" rx="8.7" fill="#000"/><circle r="34.5" fill="#fff" stroke="#000" stroke-width="1.9"/><path transform="rotate(0)" d="M-1.8 -34V-27M1.8 -34V-27" stroke="#000" stroke-width="1.6"/><path transform="rotate(22.5)" d="M-1.8 -34V-27M1.8 -34V-27" stroke="#000" stroke-width="1.6"/><path transform="rotate(45)" d="M-1.8 -34V-27M1.8 -34V-27" stroke="#000" stroke-width="1.6"/><path transform="rotate(67.5)" d="M-1.8 -34V-27M1.8 -34V-27" stroke="#000" stroke-width="1.6"/><path transform="rotate(90)" d="M-1.8 -34V-27M1.8 -34V-27" stroke="#000" stroke-width="1.6"/><path transform="rotate(112.5)" d="M-1.8 -34V-27M1.8 -34V-27" stroke="#000" stroke-width="1.6"/><path transform="rotate(135)" d="M-1.8 -34V-27M1.8 -34V-27" stroke="#000" stroke-width="1.6"/><path transform="rotate(157.5)" d="M-1.8 -34V-27M1.8 -34V-27" stroke="#000" stroke-width="1.6"/><path transform="rotate(180)" d="M-1.8 -34V-27M1.8 -34V-27" stroke="#000" stroke-width="1.6"/><path transform="rotate(202.5)" d="M-1.8 -34V-27M1.8 -34V-27" stroke="#000" stroke-width="1.6"/><path transform="rotate(225)" d="M-1.8 -34V-27M1.8 -34V-27" stroke="#000" stroke-width="1.6"/><path transform="rotate(247.5)" d="M-1.8 -34V-27M1.8 -34V-27" stroke="#000" stroke-width="1.6"/><path transform="rotate(270)" d="M-1.8 -34V-27M1.8 -34V-27" stroke="#000" stroke-width="1.6"/><path transform="rotate(292.5)" d="M-1.8 -34V-27M1.8 -34V-27" stroke="#000" stroke-width="1.6"/><path transform="rotate(315)" d="M-1.8 -34V-27M1.8 -34V-27" stroke="#000" stroke-width="1.6"/><path transform="rotate(337.5)" d="M-1.8 -34V-27M1.8 -34V-27" stroke="#000" stroke-width="1.6"/><circle r="26.6" fill="#fff" stroke="#000" stroke-width="2.2"/><circle r="18.7" fill="#fff" stroke="#000" stroke-width="2"/><circle r="10.5" fill="#000"/></g>
<circle cx="966.70" cy="319.1" r="9" fill="#fff" stroke="#000" stroke-width="1.5"/><path d="M960.50 319.1H972.90" stroke="#000" stroke-width="1.4"/><path d="M966.70 312.90000000000003V325.3" stroke="#000" stroke-width="1.4"/><circle cx="1050.40" cy="319.1" r="9" fill="#fff" stroke="#000" stroke-width="1.5"/><path d="M1044.20 319.1H1056.60" stroke="#000" stroke-width="1.4"/>
<path d="M972.62 398.50A40.8 40.8 0 0 0 1007.95 418.90" fill="none" stroke="#000" stroke-width="10"/><path d="M972.62 398.50A40.8 40.8 0 0 0 1007.75 418.90" fill="none" stroke="#fff" stroke-width="5.8"/><path d="M1007.95 418.90A40.8 40.8 0 0 0 1043.28 398.50" fill="none" stroke="#000" stroke-width="10"/>
<g transform="translate(966.90,378.10)"><rect x="-8.7" y="-45" width="17.4" height="90" rx="8.7" fill="#000"/><circle r="34.5" fill="#e63323" stroke="#000" stroke-width="1.9"/><path transform="rotate(0)" d="M-1.8 -34V-27M1.8 -34V-27" stroke="#000" stroke-width="1.6"/><path transform="rotate(22.5)" d="M-1.8 -34V-27M1.8 -34V-27" stroke="#000" stroke-width="1.6"/><path transform="rotate(45)" d="M-1.8 -34V-27M1.8 -34V-27" stroke="#000" stroke-width="1.6"/><path transform="rotate(67.5)" d="M-1.8 -34V-27M1.8 -34V-27" stroke="#000" stroke-width="1.6"/><path transform="rotate(90)" d="M-1.8 -34V-27M1.8 -34V-27" stroke="#000" stroke-width="1.6"/><path transform="rotate(112.5)" d="M-1.8 -34V-27M1.8 -34V-27" stroke="#000" stroke-width="1.6"/><path transform="rotate(135)" d="M-1.8 -34V-27M1.8 -34V-27" stroke="#000" stroke-width="1.6"/><path transform="rotate(157.5)" d="M-1.8 -34V-27M1.8 -34V-27" stroke="#000" stroke-width="1.6"/><path transform="rotate(180)" d="M-1.8 -34V-27M1.8 -34V-27" stroke="#000" stroke-width="1.6"/><path transform="rotate(202.5)" d="M-1.8 -34V-27M1.8 -34V-27" stroke="#000" stroke-width="1.6"/><path transform="rotate(225)" d="M-1.8 -34V-27M1.8 -34V-27" stroke="#000" stroke-width="1.6"/><path transform="rotate(247.5)" d="M-1.8 -34V-27M1.8 -34V-27" stroke="#000" stroke-width="1.6"/><path transform="rotate(270)" d="M-1.8 -34V-27M1.8 -34V-27" stroke="#000" stroke-width="1.6"/><path transform="rotate(292.5)" d="M-1.8 -34V-27M1.8 -34V-27" stroke="#000" stroke-width="1.6"/><path transform="rotate(315)" d="M-1.8 -34V-27M1.8 -34V-27" stroke="#000" stroke-width="1.6"/><path transform="rotate(337.5)" d="M-1.8 -34V-27M1.8 -34V-27" stroke="#000" stroke-width="1.6"/><circle r="26.6" fill="#e63323" stroke="#000" stroke-width="2.2"/><circle r="18.7" fill="#fff" stroke="#000" stroke-width="2"/><circle r="10.5" fill="#000"/></g><g transform="translate(1049.00,378.10)"><rect x="-8.7" y="-45" width="17.4" height="90" rx="8.7" fill="#000"/><circle r="34.5" fill="#fff" stroke="#000" stroke-width="1.9"/><path transform="rotate(0)" d="M-1.8 -34V-27M1.8 -34V-27" stroke="#000" stroke-width="1.6"/><path transform="rotate(22.5)" d="M-1.8 -34V-27M1.8 -34V-27" stroke="#000" stroke-width="1.6"/><path transform="rotate(45)" d="M-1.8 -34V-27M1.8 -34V-27" stroke="#000" stroke-width="1.6"/><path transform="rotate(67.5)" d="M-1.8 -34V-27M1.8 -34V-27" stroke="#000" stroke-width="1.6"/><path transform="rotate(90)" d="M-1.8 -34V-27M1.8 -34V-27" stroke="#000" stroke-width="1.6"/><path transform="rotate(112.5)" d="M-1.8 -34V-27M1.8 -34V-27" stroke="#000" stroke-width="1.6"/><path transform="rotate(135)" d="M-1.8 -34V-27M1.8 -34V-27" stroke="#000" stroke-width="1.6"/><path transform="rotate(157.5)" d="M-1.8 -34V-27M1.8 -34V-27" stroke="#000" stroke-width="1.6"/><path transform="rotate(180)" d="M-1.8 -34V-27M1.8 -34V-27" stroke="#000" stroke-width="1.6"/><path transform="rotate(202.5)" d="M-1.8 -34V-27M1.8 -34V-27" stroke="#000" stroke-width="1.6"/><path transform="rotate(225)" d="M-1.8 -34V-27M1.8 -34V-27" stroke="#000" stroke-width="1.6"/><path transform="rotate(247.5)" d="M-1.8 -34V-27M1.8 -34V-27" stroke="#000" stroke-width="1.6"/><path transform="rotate(270)" d="M-1.8 -34V-27M1.8 -34V-27" stroke="#000" stroke-width="1.6"/><path transform="rotate(292.5)" d="M-1.8 -34V-27M1.8 -34V-27" stroke="#000" stroke-width="1.6"/><path transform="rotate(315)" d="M-1.8 -34V-27M1.8 -34V-27" stroke="#000" stroke-width="1.6"/><path transform="rotate(337.5)" d="M-1.8 -34V-27M1.8 -34V-27" stroke="#000" stroke-width="1.6"/><circle r="26.6" fill="#fff" stroke="#000" stroke-width="2.2"/><circle r="18.7" fill="#fff" stroke="#000" stroke-width="2"/><circle r="10.5" fill="#000"/></g>
<circle cx="1134.80" cy="319.1" r="9" fill="#fff" stroke="#000" stroke-width="1.5"/><path d="M1128.60 319.1H1141.00" stroke="#000" stroke-width="1.4"/><path d="M1134.80 312.90000000000003V325.3" stroke="#000" stroke-width="1.4"/><circle cx="1218.50" cy="319.1" r="9" fill="#fff" stroke="#000" stroke-width="1.5"/><path d="M1212.30 319.1H1224.70" stroke="#000" stroke-width="1.4"/>
<path d="M1140.72 398.50A40.8 40.8 0 0 0 1176.05 418.90" fill="none" stroke="#000" stroke-width="10"/><path d="M1140.72 398.50A40.8 40.8 0 0 0 1175.85 418.90" fill="none" stroke="#fff" stroke-width="5.8"/><path d="M1176.05 418.90A40.8 40.8 0 0 0 1211.38 398.50" fill="none" stroke="#000" stroke-width="10"/>
<g transform="translate(1135.00,378.10)"><rect x="-8.7" y="-45" width="17.4" height="90" rx="8.7" fill="#000"/><circle r="34.5" fill="#e63323" stroke="#000" stroke-width="1.9"/><path transform="rotate(0)" d="M-1.8 -34V-27M1.8 -34V-27" stroke="#000" stroke-width="1.6"/><path transform="rotate(22.5)" d="M-1.8 -34V-27M1.8 -34V-27" stroke="#000" stroke-width="1.6"/><path transform="rotate(45)" d="M-1.8 -34V-27M1.8 -34V-27" stroke="#000" stroke-width="1.6"/><path transform="rotate(67.5)" d="M-1.8 -34V-27M1.8 -34V-27" stroke="#000" stroke-width="1.6"/><path transform="rotate(90)" d="M-1.8 -34V-27M1.8 -34V-27" stroke="#000" stroke-width="1.6"/><path transform="rotate(112.5)" d="M-1.8 -34V-27M1.8 -34V-27" stroke="#000" stroke-width="1.6"/><path transform="rotate(135)" d="M-1.8 -34V-27M1.8 -34V-27" stroke="#000" stroke-width="1.6"/><path transform="rotate(157.5)" d="M-1.8 -34V-27M1.8 -34V-27" stroke="#000" stroke-width="1.6"/><path transform="rotate(180)" d="M-1.8 -34V-27M1.8 -34V-27" stroke="#000" stroke-width="1.6"/><path transform="rotate(202.5)" d="M-1.8 -34V-27M1.8 -34V-27" stroke="#000" stroke-width="1.6"/><path transform="rotate(225)" d="M-1.8 -34V-27M1.8 -34V-27" stroke="#000" stroke-width="1.6"/><path transform="rotate(247.5)" d="M-1.8 -34V-27M1.8 -34V-27" stroke="#000" stroke-width="1.6"/><path transform="rotate(270)" d="M-1.8 -34V-27M1.8 -34V-27" stroke="#000" stroke-width="1.6"/><path transform="rotate(292.5)" d="M-1.8 -34V-27M1.8 -34V-27" stroke="#000" stroke-width="1.6"/><path transform="rotate(315)" d="M-1.8 -34V-27M1.8 -34V-27" stroke="#000" stroke-width="1.6"/><path transform="rotate(337.5)" d="M-1.8 -34V-27M1.8 -34V-27" stroke="#000" stroke-width="1.6"/><circle r="26.6" fill="#e63323" stroke="#000" stroke-width="2.2"/><circle r="18.7" fill="#fff" stroke="#000" stroke-width="2"/><circle r="10.5" fill="#000"/></g><g transform="translate(1217.10,378.10)"><rect x="-8.7" y="-45" width="17.4" height="90" rx="8.7" fill="#000"/><circle r="34.5" fill="#fff" stroke="#000" stroke-width="1.9"/><path transform="rotate(0)" d="M-1.8 -34V-27M1.8 -34V-27" stroke="#000" stroke-width="1.6"/><path transform="rotate(22.5)" d="M-1.8 -34V-27M1.8 -34V-27" stroke="#000" stroke-width="1.6"/><path transform="rotate(45)" d="M-1.8 -34V-27M1.8 -34V-27" stroke="#000" stroke-width="1.6"/><path transform="rotate(67.5)" d="M-1.8 -34V-27M1.8 -34V-27" stroke="#000" stroke-width="1.6"/><path transform="rotate(90)" d="M-1.8 -34V-27M1.8 -34V-27" stroke="#000" stroke-width="1.6"/><path transform="rotate(112.5)" d="M-1.8 -34V-27M1.8 -34V-27" stroke="#000" stroke-width="1.6"/><path transform="rotate(135)" d="M-1.8 -34V-27M1.8 -34V-27" stroke="#000" stroke-width="1.6"/><path transform="rotate(157.5)" d="M-1.8 -34V-27M1.8 -34V-27" stroke="#000" stroke-width="1.6"/><path transform="rotate(180)" d="M-1.8 -34V-27M1.8 -34V-27" stroke="#000" stroke-width="1.6"/><path transform="rotate(202.5)" d="M-1.8 -34V-27M1.8 -34V-27" stroke="#000" stroke-width="1.6"/><path transform="rotate(225)" d="M-1.8 -34V-27M1.8 -34V-27" stroke="#000" stroke-width="1.6"/><path transform="rotate(247.5)" d="M-1.8 -34V-27M1.8 -34V-27" stroke="#000" stroke-width="1.6"/><path transform="rotate(270)" d="M-1.8 -34V-27M1.8 -34V-27" stroke="#000" stroke-width="1.6"/><path transform="rotate(292.5)" d="M-1.8 -34V-27M1.8 -34V-27" stroke="#000" stroke-width="1.6"/><path transform="rotate(315)" d="M-1.8 -34V-27M1.8 -34V-27" stroke="#000" stroke-width="1.6"/><path transform="rotate(337.5)" d="M-1.8 -34V-27M1.8 -34V-27" stroke="#000" stroke-width="1.6"/><circle r="26.6" fill="#fff" stroke="#000" stroke-width="2.2"/><circle r="18.7" fill="#fff" stroke="#000" stroke-width="2"/><circle r="10.5" fill="#000"/></g>
<circle cx="1302.90" cy="319.1" r="9" fill="#fff" stroke="#000" stroke-width="1.5"/><path d="M1296.70 319.1H1309.10" stroke="#000" stroke-width="1.4"/><path d="M1302.90 312.90000000000003V325.3" stroke="#000" stroke-width="1.4"/><circle cx="1386.60" cy="319.1" r="9" fill="#fff" stroke="#000" stroke-width="1.5"/><path d="M1380.40 319.1H1392.80" stroke="#000" stroke-width="1.4"/>
<path d="M1308.82 398.50A40.8 40.8 0 0 0 1344.15 418.90" fill="none" stroke="#000" stroke-width="10"/><path d="M1308.82 398.50A40.8 40.8 0 0 0 1343.95 418.90" fill="none" stroke="#fff" stroke-width="5.8"/><path d="M1344.15 418.90A40.8 40.8 0 0 0 1379.48 398.50" fill="none" stroke="#000" stroke-width="10"/>
<g transform="translate(1303.10,378.10)"><rect x="-8.7" y="-45" width="17.4" height="90" rx="8.7" fill="#000"/><circle r="34.5" fill="#e63323" stroke="#000" stroke-width="1.9"/><path transform="rotate(0)" d="M-1.8 -34V-27M1.8 -34V-27" stroke="#000" stroke-width="1.6"/><path transform="rotate(22.5)" d="M-1.8 -34V-27M1.8 -34V-27" stroke="#000" stroke-width="1.6"/><path transform="rotate(45)" d="M-1.8 -34V-27M1.8 -34V-27" stroke="#000" stroke-width="1.6"/><path transform="rotate(67.5)" d="M-1.8 -34V-27M1.8 -34V-27" stroke="#000" stroke-width="1.6"/><path transform="rotate(90)" d="M-1.8 -34V-27M1.8 -34V-27" stroke="#000" stroke-width="1.6"/><path transform="rotate(112.5)" d="M-1.8 -34V-27M1.8 -34V-27" stroke="#000" stroke-width="1.6"/><path transform="rotate(135)" d="M-1.8 -34V-27M1.8 -34V-27" stroke="#000" stroke-width="1.6"/><path transform="rotate(157.5)" d="M-1.8 -34V-27M1.8 -34V-27" stroke="#000" stroke-width="1.6"/><path transform="rotate(180)" d="M-1.8 -34V-27M1.8 -34V-27" stroke="#000" stroke-width="1.6"/><path transform="rotate(202.5)" d="M-1.8 -34V-27M1.8 -34V-27" stroke="#000" stroke-width="1.6"/><path transform="rotate(225)" d="M-1.8 -34V-27M1.8 -34V-27" stroke="#000" stroke-width="1.6"/><path transform="rotate(247.5)" d="M-1.8 -34V-27M1.8 -34V-27" stroke="#000" stroke-width="1.6"/><path transform="rotate(270)" d="M-1.8 -34V-27M1.8 -34V-27" stroke="#000" stroke-width="1.6"/><path transform="rotate(292.5)" d="M-1.8 -34V-27M1.8 -34V-27" stroke="#000" stroke-width="1.6"/><path transform="rotate(315)" d="M-1.8 -34V-27M1.8 -34V-27" stroke="#000" stroke-width="1.6"/><path transform="rotate(337.5)" d="M-1.8 -34V-27M1.8 -34V-27" stroke="#000" stroke-width="1.6"/><circle r="26.6" fill="#e63323" stroke="#000" stroke-width="2.2"/><circle r="18.7" fill="#fff" stroke="#000" stroke-width="2"/><circle r="10.5" fill="#000"/></g><g transform="translate(1385.20,378.10)"><rect x="-8.7" y="-45" width="17.4" height="90" rx="8.7" fill="#000"/><circle r="34.5" fill="#fff" stroke="#000" stroke-width="1.9"/><path transform="rotate(0)" d="M-1.8 -34V-27M1.8 -34V-27" stroke="#000" stroke-width="1.6"/><path transform="rotate(22.5)" d="M-1.8 -34V-27M1.8 -34V-27" stroke="#000" stroke-width="1.6"/><path transform="rotate(45)" d="M-1.8 -34V-27M1.8 -34V-27" stroke="#000" stroke-width="1.6"/><path transform="rotate(67.5)" d="M-1.8 -34V-27M1.8 -34V-27" stroke="#000" stroke-width="1.6"/><path transform="rotate(90)" d="M-1.8 -34V-27M1.8 -34V-27" stroke="#000" stroke-width="1.6"/><path transform="rotate(112.5)" d="M-1.8 -34V-27M1.8 -34V-27" stroke="#000" stroke-width="1.6"/><path transform="rotate(135)" d="M-1.8 -34V-27M1.8 -34V-27" stroke="#000" stroke-width="1.6"/><path transform="rotate(157.5)" d="M-1.8 -34V-27M1.8 -34V-27" stroke="#000" stroke-width="1.6"/><path transform="rotate(180)" d="M-1.8 -34V-27M1.8 -34V-27" stroke="#000" stroke-width="1.6"/><path transform="rotate(202.5)" d="M-1.8 -34V-27M1.8 -34V-27" stroke="#000" stroke-width="1.6"/><path transform="rotate(225)" d="M-1.8 -34V-27M1.8 -34V-27" stroke="#000" stroke-width="1.6"/><path transform="rotate(247.5)" d="M-1.8 -34V-27M1.8 -34V-27" stroke="#000" stroke-width="1.6"/><path transform="rotate(270)" d="M-1.8 -34V-27M1.8 -34V-27" stroke="#000" stroke-width="1.6"/><path transform="rotate(292.5)" d="M-1.8 -34V-27M1.8 -34V-27" stroke="#000" stroke-width="1.6"/><path transform="rotate(315)" d="M-1.8 -34V-27M1.8 -34V-27" stroke="#000" stroke-width="1.6"/><path transform="rotate(337.5)" d="M-1.8 -34V-27M1.8 -34V-27" stroke="#000" stroke-width="1.6"/><circle r="26.6" fill="#fff" stroke="#000" stroke-width="2.2"/><circle r="18.7" fill="#fff" stroke="#000" stroke-width="2"/><circle r="10.5" fill="#000"/></g>
<circle cx="1471.00" cy="319.1" r="9" fill="#fff" stroke="#c0c0c0" stroke-width="1.5"/><path d="M1464.80 319.1H1477.20" stroke="#c0c0c0" stroke-width="1.4"/><path d="M1471.00 312.90000000000003V325.3" stroke="#c0c0c0" stroke-width="1.4"/><circle cx="1554.70" cy="319.1" r="9" fill="#fff" stroke="#c0c0c0" stroke-width="1.5"/><path d="M1548.50 319.1H1560.90" stroke="#c0c0c0" stroke-width="1.4"/>
<g transform="translate(1471.20,378.10)"><rect x="-8.7" y="-45" width="17.4" height="90" rx="8.7" fill="#c0c0c0"/><circle r="34.5" fill="#fcab9b" stroke="#c0c0c0" stroke-width="1.9"/><path transform="rotate(0)" d="M-1.8 -34V-27M1.8 -34V-27" stroke="#c0c0c0" stroke-width="1.6"/><path transform="rotate(22.5)" d="M-1.8 -34V-27M1.8 -34V-27" stroke="#c0c0c0" stroke-width="1.6"/><path transform="rotate(45)" d="M-1.8 -34V-27M1.8 -34V-27" stroke="#c0c0c0" stroke-width="1.6"/><path transform="rotate(67.5)" d="M-1.8 -34V-27M1.8 -34V-27" stroke="#c0c0c0" stroke-width="1.6"/><path transform="rotate(90)" d="M-1.8 -34V-27M1.8 -34V-27" stroke="#c0c0c0" stroke-width="1.6"/><path transform="rotate(112.5)" d="M-1.8 -34V-27M1.8 -34V-27" stroke="#c0c0c0" stroke-width="1.6"/><path transform="rotate(135)" d="M-1.8 -34V-27M1.8 -34V-27" stroke="#c0c0c0" stroke-width="1.6"/><path transform="rotate(157.5)" d="M-1.8 -34V-27M1.8 -34V-27" stroke="#c0c0c0" stroke-width="1.6"/><path transform="rotate(180)" d="M-1.8 -34V-27M1.8 -34V-27" stroke="#c0c0c0" stroke-width="1.6"/><path transform="rotate(202.5)" d="M-1.8 -34V-27M1.8 -34V-27" stroke="#c0c0c0" stroke-width="1.6"/><path transform="rotate(225)" d="M-1.8 -34V-27M1.8 -34V-27" stroke="#c0c0c0" stroke-width="1.6"/><path transform="rotate(247.5)" d="M-1.8 -34V-27M1.8 -34V-27" stroke="#c0c0c0" stroke-width="1.6"/><path transform="rotate(270)" d="M-1.8 -34V-27M1.8 -34V-27" stroke="#c0c0c0" stroke-width="1.6"/><path transform="rotate(292.5)" d="M-1.8 -34V-27M1.8 -34V-27" stroke="#c0c0c0" stroke-width="1.6"/><path transform="rotate(315)" d="M-1.8 -34V-27M1.8 -34V-27" stroke="#c0c0c0" stroke-width="1.6"/><path transform="rotate(337.5)" d="M-1.8 -34V-27M1.8 -34V-27" stroke="#c0c0c0" stroke-width="1.6"/><circle r="26.6" fill="#fcab9b" stroke="#c0c0c0" stroke-width="2.2"/><circle r="18.7" fill="#fff" stroke="#c0c0c0" stroke-width="2"/><circle r="10.5" fill="#c0c0c0"/></g><g transform="translate(1553.30,378.10)"><rect x="-8.7" y="-45" width="17.4" height="90" rx="8.7" fill="#c0c0c0"/><circle r="34.5" fill="#fff" stroke="#c0c0c0" stroke-width="1.9"/><path transform="rotate(0)" d="M-1.8 -34V-27M1.8 -34V-27" stroke="#c0c0c0" stroke-width="1.6"/><path transform="rotate(22.5)" d="M-1.8 -34V-27M1.8 -34V-27" stroke="#c0c0c0" stroke-width="1.6"/><path transform="rotate(45)" d="M-1.8 -34V-27M1.8 -34V-27" stroke="#c0c0c0" stroke-width="1.6"/><path transform="rotate(67.5)" d="M-1.8 -34V-27M1.8 -34V-27" stroke="#c0c0c0" stroke-width="1.6"/><path transform="rotate(90)" d="M-1.8 -34V-27M1.8 -34V-27" stroke="#c0c0c0" stroke-width="1.6"/><path transform="rotate(112.5)" d="M-1.8 -34V-27M1.8 -34V-27" stroke="#c0c0c0" stroke-width="1.6"/><path transform="rotate(135)" d="M-1.8 -34V-27M1.8 -34V-27" stroke="#c0c0c0" stroke-width="1.6"/><path transform="rotate(157.5)" d="M-1.8 -34V-27M1.8 -34V-27" stroke="#c0c0c0" stroke-width="1.6"/><path transform="rotate(180)" d="M-1.8 -34V-27M1.8 -34V-27" stroke="#c0c0c0" stroke-width="1.6"/><path transform="rotate(202.5)" d="M-1.8 -34V-27M1.8 -34V-27" stroke="#c0c0c0" stroke-width="1.6"/><path transform="rotate(225)" d="M-1.8 -34V-27M1.8 -34V-27" stroke="#c0c0c0" stroke-width="1.6"/><path transform="rotate(247.5)" d="M-1.8 -34V-27M1.8 -34V-27" stroke="#c0c0c0" stroke-width="1.6"/><path transform="rotate(270)" d="M-1.8 -34V-27M1.8 -34V-27" stroke="#c0c0c0" stroke-width="1.6"/><path transform="rotate(292.5)" d="M-1.8 -34V-27M1.8 -34V-27" stroke="#c0c0c0" stroke-width="1.6"/><path transform="rotate(315)" d="M-1.8 -34V-27M1.8 -34V-27" stroke="#c0c0c0" stroke-width="1.6"/><path transform="rotate(337.5)" d="M-1.8 -34V-27M1.8 -34V-27" stroke="#c0c0c0" stroke-width="1.6"/><circle r="26.6" fill="#fff" stroke="#c0c0c0" stroke-width="2.2"/><circle r="18.7" fill="#fff" stroke="#c0c0c0" stroke-width="2"/><circle r="10.5" fill="#c0c0c0"/></g>
<circle cx="1639.10" cy="319.1" r="9" fill="#fff" stroke="#c0c0c0" stroke-width="1.5"/><path d="M1632.90 319.1H1645.30" stroke="#c0c0c0" stroke-width="1.4"/><path d="M1639.10 312.90000000000003V325.3" stroke="#c0c0c0" stroke-width="1.4"/><circle cx="1722.80" cy="319.1" r="9" fill="#fff" stroke="#c0c0c0" stroke-width="1.5"/><path d="M1716.60 319.1H1729.00" stroke="#c0c0c0" stroke-width="1.4"/>
<g transform="translate(1639.30,378.10)"><rect x="-8.7" y="-45" width="17.4" height="90" rx="8.7" fill="#c0c0c0"/><circle r="34.5" fill="#fcab9b" stroke="#c0c0c0" stroke-width="1.9"/><path transform="rotate(0)" d="M-1.8 -34V-27M1.8 -34V-27" stroke="#c0c0c0" stroke-width="1.6"/><path transform="rotate(22.5)" d="M-1.8 -34V-27M1.8 -34V-27" stroke="#c0c0c0" stroke-width="1.6"/><path transform="rotate(45)" d="M-1.8 -34V-27M1.8 -34V-27" stroke="#c0c0c0" stroke-width="1.6"/><path transform="rotate(67.5)" d="M-1.8 -34V-27M1.8 -34V-27" stroke="#c0c0c0" stroke-width="1.6"/><path transform="rotate(90)" d="M-1.8 -34V-27M1.8 -34V-27" stroke="#c0c0c0" stroke-width="1.6"/><path transform="rotate(112.5)" d="M-1.8 -34V-27M1.8 -34V-27" stroke="#c0c0c0" stroke-width="1.6"/><path transform="rotate(135)" d="M-1.8 -34V-27M1.8 -34V-27" stroke="#c0c0c0" stroke-width="1.6"/><path transform="rotate(157.5)" d="M-1.8 -34V-27M1.8 -34V-27" stroke="#c0c0c0" stroke-width="1.6"/><path transform="rotate(180)" d="M-1.8 -34V-27M1.8 -34V-27" stroke="#c0c0c0" stroke-width="1.6"/><path transform="rotate(202.5)" d="M-1.8 -34V-27M1.8 -34V-27" stroke="#c0c0c0" stroke-width="1.6"/><path transform="rotate(225)" d="M-1.8 -34V-27M1.8 -34V-27" stroke="#c0c0c0" stroke-width="1.6"/><path transform="rotate(247.5)" d="M-1.8 -34V-27M1.8 -34V-27" stroke="#c0c0c0" stroke-width="1.6"/><path transform="rotate(270)" d="M-1.8 -34V-27M1.8 -34V-27" stroke="#c0c0c0" stroke-width="1.6"/><path transform="rotate(292.5)" d="M-1.8 -34V-27M1.8 -34V-27" stroke="#c0c0c0" stroke-width="1.6"/><path transform="rotate(315)" d="M-1.8 -34V-27M1.8 -34V-27" stroke="#c0c0c0" stroke-width="1.6"/><path transform="rotate(337.5)" d="M-1.8 -34V-27M1.8 -34V-27" stroke="#c0c0c0" stroke-width="1.6"/><circle r="26.6" fill="#fcab9b" stroke="#c0c0c0" stroke-width="2.2"/><circle r="18.7" fill="#fff" stroke="#c0c0c0" stroke-width="2"/><circle r="10.5" fill="#c0c0c0"/></g><g transform="translate(1721.40,378.10)"><rect x="-8.7" y="-45" width="17.4" height="90" rx="8.7" fill="#c0c0c0"/><circle r="34.5" fill="#fff" stroke="#c0c0c0" stroke-width="1.9"/><path transform="rotate(0)" d="M-1.8 -34V-27M1.8 -34V-27" stroke="#c0c0c0" stroke-width="1.6"/><path transform="rotate(22.5)" d="M-1.8 -34V-27M1.8 -34V-27" stroke="#c0c0c0" stroke-width="1.6"/><path transform="rotate(45)" d="M-1.8 -34V-27M1.8 -34V-27" stroke="#c0c0c0" stroke-width="1.6"/><path transform="rotate(67.5)" d="M-1.8 -34V-27M1.8 -34V-27" stroke="#c0c0c0" stroke-width="1.6"/><path transform="rotate(90)" d="M-1.8 -34V-27M1.8 -34V-27" stroke="#c0c0c0" stroke-width="1.6"/><path transform="rotate(112.5)" d="M-1.8 -34V-27M1.8 -34V-27" stroke="#c0c0c0" stroke-width="1.6"/><path transform="rotate(135)" d="M-1.8 -34V-27M1.8 -34V-27" stroke="#c0c0c0" stroke-width="1.6"/><path transform="rotate(157.5)" d="M-1.8 -34V-27M1.8 -34V-27" stroke="#c0c0c0" stroke-width="1.6"/><path transform="rotate(180)" d="M-1.8 -34V-27M1.8 -34V-27" stroke="#c0c0c0" stroke-width="1.6"/><path transform="rotate(202.5)" d="M-1.8 -34V-27M1.8 -34V-27" stroke="#c0c0c0" stroke-width="1.6"/><path transform="rotate(225)" d="M-1.8 -34V-27M1.8 -34V-27" stroke="#c0c0c0" stroke-width="1.6"/><path transform="rotate(247.5)" d="M-1.8 -34V-27M1.8 -34V-27" stroke="#c0c0c0" stroke-width="1.6"/><path transform="rotate(270)" d="M-1.8 -34V-27M1.8 -34V-27" stroke="#c0c0c0" stroke-width="1.6"/><path transform="rotate(292.5)" d="M-1.8 -34V-27M1.8 -34V-27" stroke="#c0c0c0" stroke-width="1.6"/><path transform="rotate(315)" d="M-1.8 -34V-27M1.8 -34V-27" stroke="#c0c0c0" stroke-width="1.6"/><path transform="rotate(337.5)" d="M-1.8 -34V-27M1.8 -34V-27" stroke="#c0c0c0" stroke-width="1.6"/><circle r="26.6" fill="#fff" stroke="#c0c0c0" stroke-width="2.2"/><circle r="18.7" fill="#fff" stroke="#c0c0c0" stroke-width="2"/><circle r="10.5" fill="#c0c0c0"/></g>
<circle cx="1471.00" cy="151.5" r="9" fill="#fff" stroke="#000" stroke-width="1.5"/><path d="M1464.80 151.5H1477.20" stroke="#000" stroke-width="1.4"/><path d="M1471.00 145.3V157.7" stroke="#000" stroke-width="1.4"/><circle cx="1554.70" cy="151.5" r="9" fill="#fff" stroke="#000" stroke-width="1.5"/><path d="M1548.50 151.5H1560.90" stroke="#000" stroke-width="1.4"/>
<path d="M1475.88 232.30A42.0 42.0 0 0 0 1512.25 253.30" fill="none" stroke="#000" stroke-width="10"/><path d="M1475.88 232.30A42.0 42.0 0 0 0 1512.05 253.30" fill="none" stroke="#fff" stroke-width="5.8"/><path d="M1512.25 253.30A42.0 42.0 0 0 0 1548.62 232.30" fill="none" stroke="#000" stroke-width="10"/>
<g transform="translate(1471.20,211.30)"><rect x="-8.7" y="-45" width="17.4" height="90" rx="8.7" fill="#000"/><circle r="34.5" fill="#e63323" stroke="#000" stroke-width="1.9"/><path transform="rotate(0)" d="M-1.8 -34V-27M1.8 -34V-27" stroke="#000" stroke-width="1.6"/><path transform="rotate(22.5)" d="M-1.8 -34V-27M1.8 -34V-27" stroke="#000" stroke-width="1.6"/><path transform="rotate(45)" d="M-1.8 -34V-27M1.8 -34V-27" stroke="#000" stroke-width="1.6"/><path transform="rotate(67.5)" d="M-1.8 -34V-27M1.8 -34V-27" stroke="#000" stroke-width="1.6"/><path transform="rotate(90)" d="M-1.8 -34V-27M1.8 -34V-27" stroke="#000" stroke-width="1.6"/><path transform="rotate(112.5)" d="M-1.8 -34V-27M1.8 -34V-27" stroke="#000" stroke-width="1.6"/><path transform="rotate(135)" d="M-1.8 -34V-27M1.8 -34V-27" stroke="#000" stroke-width="1.6"/><path transform="rotate(157.5)" d="M-1.8 -34V-27M1.8 -34V-27" stroke="#000" stroke-width="1.6"/><path transform="rotate(180)" d="M-1.8 -34V-27M1.8 -34V-27" stroke="#000" stroke-width="1.6"/><path transform="rotate(202.5)" d="M-1.8 -34V-27M1.8 -34V-27" stroke="#000" stroke-width="1.6"/><path transform="rotate(225)" d="M-1.8 -34V-27M1.8 -34V-27" stroke="#000" stroke-width="1.6"/><path transform="rotate(247.5)" d="M-1.8 -34V-27M1.8 -34V-27" stroke="#000" stroke-width="1.6"/><path transform="rotate(270)" d="M-1.8 -34V-27M1.8 -34V-27" stroke="#000" stroke-width="1.6"/><path transform="rotate(292.5)" d="M-1.8 -34V-27M1.8 -34V-27" stroke="#000" stroke-width="1.6"/><path transform="rotate(315)" d="M-1.8 -34V-27M1.8 -34V-27" stroke="#000" stroke-width="1.6"/><path transform="rotate(337.5)" d="M-1.8 -34V-27M1.8 -34V-27" stroke="#000" stroke-width="1.6"/><circle r="26.6" fill="#e63323" stroke="#000" stroke-width="2.2"/><circle r="18.7" fill="#fff" stroke="#000" stroke-width="2"/><circle r="10.5" fill="#000"/></g><g transform="translate(1553.30,211.30)"><rect x="-8.7" y="-45" width="17.4" height="90" rx="8.7" fill="#000"/><circle r="34.5" fill="#fff" stroke="#000" stroke-width="1.9"/><path transform="rotate(0)" d="M-1.8 -34V-27M1.8 -34V-27" stroke="#000" stroke-width="1.6"/><path transform="rotate(22.5)" d="M-1.8 -34V-27M1.8 -34V-27" stroke="#000" stroke-width="1.6"/><path transform="rotate(45)" d="M-1.8 -34V-27M1.8 -34V-27" stroke="#000" stroke-width="1.6"/><path transform="rotate(67.5)" d="M-1.8 -34V-27M1.8 -34V-27" stroke="#000" stroke-width="1.6"/><path transform="rotate(90)" d="M-1.8 -34V-27M1.8 -34V-27" stroke="#000" stroke-width="1.6"/><path transform="rotate(112.5)" d="M-1.8 -34V-27M1.8 -34V-27" stroke="#000" stroke-width="1.6"/><path transform="rotate(135)" d="M-1.8 -34V-27M1.8 -34V-27" stroke="#000" stroke-width="1.6"/><path transform="rotate(157.5)" d="M-1.8 -34V-27M1.8 -34V-27" stroke="#000" stroke-width="1.6"/><path transform="rotate(180)" d="M-1.8 -34V-27M1.8 -34V-27" stroke="#000" stroke-width="1.6"/><path transform="rotate(202.5)" d="M-1.8 -34V-27M1.8 -34V-27" stroke="#000" stroke-width="1.6"/><path transform="rotate(225)" d="M-1.8 -34V-27M1.8 -34V-27" stroke="#000" stroke-width="1.6"/><path transform="rotate(247.5)" d="M-1.8 -34V-27M1.8 -34V-27" stroke="#000" stroke-width="1.6"/><path transform="rotate(270)" d="M-1.8 -34V-27M1.8 -34V-27" stroke="#000" stroke-width="1.6"/><path transform="rotate(292.5)" d="M-1.8 -34V-27M1.8 -34V-27" stroke="#000" stroke-width="1.6"/><path transform="rotate(315)" d="M-1.8 -34V-27M1.8 -34V-27" stroke="#000" stroke-width="1.6"/><path transform="rotate(337.5)" d="M-1.8 -34V-27M1.8 -34V-27" stroke="#000" stroke-width="1.6"/><circle r="26.6" fill="#fff" stroke="#000" stroke-width="2.2"/><circle r="18.7" fill="#fff" stroke="#000" stroke-width="2"/><circle r="10.5" fill="#000"/></g>
<circle cx="1639.10" cy="151.5" r="9" fill="#fff" stroke="#000" stroke-width="1.5"/><path d="M1632.90 151.5H1645.30" stroke="#000" stroke-width="1.4"/><path d="M1639.10 145.3V157.7" stroke="#000" stroke-width="1.4"/><circle cx="1722.80" cy="151.5" r="9" fill="#fff" stroke="#000" stroke-width="1.5"/><path d="M1716.60 151.5H1729.00" stroke="#000" stroke-width="1.4"/>
<path d="M1643.98 232.30A42.0 42.0 0 0 0 1680.35 253.30" fill="none" stroke="#000" stroke-width="10"/><path d="M1643.98 232.30A42.0 42.0 0 0 0 1680.15 253.30" fill="none" stroke="#fff" stroke-width="5.8"/><path d="M1680.35 253.30A42.0 42.0 0 0 0 1716.72 232.30" fill="none" stroke="#000" stroke-width="10"/>
<g transform="translate(1639.30,211.30)"><rect x="-8.7" y="-45" width="17.4" height="90" rx="8.7" fill="#000"/><circle r="34.5" fill="#e63323" stroke="#000" stroke-width="1.9"/><path transform="rotate(0)" d="M-1.8 -34V-27M1.8 -34V-27" stroke="#000" stroke-width="1.6"/><path transform="rotate(22.5)" d="M-1.8 -34V-27M1.8 -34V-27" stroke="#000" stroke-width="1.6"/><path transform="rotate(45)" d="M-1.8 -34V-27M1.8 -34V-27" stroke="#000" stroke-width="1.6"/><path transform="rotate(67.5)" d="M-1.8 -34V-27M1.8 -34V-27" stroke="#000" stroke-width="1.6"/><path transform="rotate(90)" d="M-1.8 -34V-27M1.8 -34V-27" stroke="#000" stroke-width="1.6"/><path transform="rotate(112.5)" d="M-1.8 -34V-27M1.8 -34V-27" stroke="#000" stroke-width="1.6"/><path transform="rotate(135)" d="M-1.8 -34V-27M1.8 -34V-27" stroke="#000" stroke-width="1.6"/><path transform="rotate(157.5)" d="M-1.8 -34V-27M1.8 -34V-27" stroke="#000" stroke-width="1.6"/><path transform="rotate(180)" d="M-1.8 -34V-27M1.8 -34V-27" stroke="#000" stroke-width="1.6"/><path transform="rotate(202.5)" d="M-1.8 -34V-27M1.8 -34V-27" stroke="#000" stroke-width="1.6"/><path transform="rotate(225)" d="M-1.8 -34V-27M1.8 -34V-27" stroke="#000" stroke-width="1.6"/><path transform="rotate(247.5)" d="M-1.8 -34V-27M1.8 -34V-27" stroke="#000" stroke-width="1.6"/><path transform="rotate(270)" d="M-1.8 -34V-27M1.8 -34V-27" stroke="#000" stroke-width="1.6"/><path transform="rotate(292.5)" d="M-1.8 -34V-27M1.8 -34V-27" stroke="#000" stroke-width="1.6"/><path transform="rotate(315)" d="M-1.8 -34V-27M1.8 -34V-27" stroke="#000" stroke-width="1.6"/><path transform="rotate(337.5)" d="M-1.8 -34V-27M1.8 -34V-27" stroke="#000" stroke-width="1.6"/><circle r="26.6" fill="#e63323" stroke="#000" stroke-width="2.2"/><circle r="18.7" fill="#fff" stroke="#000" stroke-width="2"/><circle r="10.5" fill="#000"/></g><g transform="translate(1721.40,211.30)"><rect x="-8.7" y="-45" width="17.4" height="90" rx="8.7" fill="#000"/><circle r="34.5" fill="#fff" stroke="#000" stroke-width="1.9"/><path transform="rotate(0)" d="M-1.8 -34V-27M1.8 -34V-27" stroke="#000" stroke-width="1.6"/><path transform="rotate(22.5)" d="M-1.8 -34V-27M1.8 -34V-27" stroke="#000" stroke-width="1.6"/><path transform="rotate(45)" d="M-1.8 -34V-27M1.8 -34V-27" stroke="#000" stroke-width="1.6"/><path transform="rotate(67.5)" d="M-1.8 -34V-27M1.8 -34V-27" stroke="#000" stroke-width="1.6"/><path transform="rotate(90)" d="M-1.8 -34V-27M1.8 -34V-27" stroke="#000" stroke-width="1.6"/><path transform="rotate(112.5)" d="M-1.8 -34V-27M1.8 -34V-27" stroke="#000" stroke-width="1.6"/><path transform="rotate(135)" d="M-1.8 -34V-27M1.8 -34V-27" stroke="#000" stroke-width="1.6"/><path transform="rotate(157.5)" d="M-1.8 -34V-27M1.8 -34V-27" stroke="#000" stroke-width="1.6"/><path transform="rotate(180)" d="M-1.8 -34V-27M1.8 -34V-27" stroke="#000" stroke-width="1.6"/><path transform="rotate(202.5)" d="M-1.8 -34V-27M1.8 -34V-27" stroke="#000" stroke-width="1.6"/><path transform="rotate(225)" d="M-1.8 -34V-27M1.8 -34V-27" stroke="#000" stroke-width="1.6"/><path transform="rotate(247.5)" d="M-1.8 -34V-27M1.8 -34V-27" stroke="#000" stroke-width="1.6"/><path transform="rotate(270)" d="M-1.8 -34V-27M1.8 -34V-27" stroke="#000" stroke-width="1.6"/><path transform="rotate(292.5)" d="M-1.8 -34V-27M1.8 -34V-27" stroke="#000" stroke-width="1.6"/><path transform="rotate(315)" d="M-1.8 -34V-27M1.8 -34V-27" stroke="#000" stroke-width="1.6"/><path transform="rotate(337.5)" d="M-1.8 -34V-27M1.8 -34V-27" stroke="#000" stroke-width="1.6"/><circle r="26.6" fill="#fff" stroke="#000" stroke-width="2.2"/><circle r="18.7" fill="#fff" stroke="#000" stroke-width="2"/><circle r="10.5" fill="#000"/></g>
</g>
<g id="cables" fill="none">
<path d="M336.5 424V600" stroke="#fff" stroke-width="25.4"/>
<path d="M336.5 423.6V600" stroke="#000" stroke-width="12.7"/>
<path d="M505.0 424V600" stroke="#fff" stroke-width="25.4"/>
<path d="M505.0 423.6V600" stroke="#000" stroke-width="12.7"/>
<path d="M673.0 424V600" stroke="#fff" stroke-width="25.4"/>
<path d="M673.0 423.6V600" stroke="#000" stroke-width="12.7"/>
<path d="M841.4 424V600" stroke="#fff" stroke-width="25.4"/>
<path d="M841.4 423.6V600" stroke="#000" stroke-width="12.7"/>
<path d="M1009.6 424V600" stroke="#fff" stroke-width="25.4"/>
<path d="M1009.6 423.6V600" stroke="#000" stroke-width="12.7"/>
<path d="M1177.9 424V600" stroke="#fff" stroke-width="25.4"/>
<path d="M1177.9 423.6V600" stroke="#000" stroke-width="12.7"/>
<path d="M1346.0 424V600" stroke="#fff" stroke-width="25.4"/>
<path d="M1346.0 423.6V600" stroke="#000" stroke-width="12.7"/>
<path d="M99.2 608V263a26 26 0 0 1 26 -26H845" stroke="#fff" stroke-width="25.4"/>
<path d="M844.4 228.5L883.5 220.3V253.7L844.4 245.5Z" stroke="#fff" stroke-width="13" fill="#fff" stroke-linejoin="round"/>
<path d="M884.9 212.8H946.6V258.2H884.9Z" stroke="#fff" stroke-width="13" fill="#fff" stroke-linejoin="round"/>
<path d="M946.6 218.2H957.2V252.8H946.6Z" stroke="#fff" stroke-width="13" fill="#fff" stroke-linejoin="round"/>
<path d="M957.2 229.9H975.5a5.3 5.3 0 0 1 0 10.6H957.2Z" stroke="#fff" stroke-width="13" fill="#fff" stroke-linejoin="round"/>
<path d="M99.2 608V263a26 26 0 0 1 26 -26H845" stroke="#000" stroke-width="12.7"/>
<path d="M844.4 228.5L883.5 220.3V253.7L844.4 245.5Z" stroke="#000" stroke-width="3.5" fill="#fff"/>
<path d="M884.9 212.8H946.6V258.2H884.9Z" stroke="#000" stroke-width="3.5" fill="#fff"/>
<path d="M946.6 218.2H957.2V252.8H946.6Z" stroke="#000" stroke-width="3.5" fill="#fff"/>
<path d="M957.2 229.9H975.5a5.3 5.3 0 0 1 0 10.6H957.2Z" stroke="#000" stroke-width="3.5" fill="#fff"/>
<path d="M935.2 213V258M939.3 213V258" stroke="#000" stroke-width="1.5"/>
<path d="M1512.6 246.9V96.6a22.5 22.5 0 0 1 22.5 -22.5H1827.5a22.5 22.5 0 0 1 22.5 22.5V660" stroke="#fff" stroke-width="25.4"/>
<path d="M1512.6 246.9V96.6a22.5 22.5 0 0 1 22.5 -22.5H1827.5a22.5 22.5 0 0 1 22.5 22.5V660" stroke="#000" stroke-width="12.7"/>
<path d="M1680.4 246.9V35.8a23 23 0 0 1 23 -23H1995.3a23 23 0 0 1 23 23V660" stroke="#fff" stroke-width="25.4"/>
<path d="M1680.4 246.9V35.8a23 23 0 0 1 23 -23H1995.3a23 23 0 0 1 23 23V660" stroke="#000" stroke-width="12.7"/>
</g>
<g id="speakers">
<g transform="translate(336.50,0)"><rect x="-62" y="601" width="124" height="199" fill="#fff" stroke="#000" stroke-width="5.6"/><circle cy="648" r="22.1" fill="#fff" stroke="#000" stroke-width="2.5"/><circle cy="648" r="11" fill="#fff" stroke="#000" stroke-width="2.5"/><g transform="translate(0.7,0)"><path d="M-24.45 702.05Q-19.50 697.10 -12.50 697.10L12.50 697.10Q19.50 697.10 24.45 702.05L36.45 714.05Q41.40 719.00 41.40 726.00L41.40 751.00Q41.40 758.00 36.45 762.95L24.45 774.95Q19.50 779.90 12.50 779.90L-12.50 779.90Q-19.50 779.90 -24.45 774.95L-36.45 762.95Q-41.40 758.00 -41.40 751.00L-41.40 726.00Q-41.40 719.00 -36.45 714.05Z" fill="#fff" stroke="#000" stroke-width="2.4"/><circle cy="738.5" r="34.8" fill="#fff" stroke="#000" stroke-width="2.5"/><circle cy="738.5" r="11.6" fill="#fff" stroke="#000" stroke-width="2.5"/></g></g>
<g transform="translate(505.00,0)"><rect x="-62" y="601" width="124" height="199" fill="#fff" stroke="#000" stroke-width="5.6"/><circle cy="648" r="22.1" fill="#fff" stroke="#000" stroke-width="2.5"/><circle cy="648" r="11" fill="#fff" stroke="#000" stroke-width="2.5"/><g transform="translate(0.7,0)"><path d="M-24.45 702.05Q-19.50 697.10 -12.50 697.10L12.50 697.10Q19.50 697.10 24.45 702.05L36.45 714.05Q41.40 719.00 41.40 726.00L41.40 751.00Q41.40 758.00 36.45 762.95L24.45 774.95Q19.50 779.90 12.50 779.90L-12.50 779.90Q-19.50 779.90 -24.45 774.95L-36.45 762.95Q-41.40 758.00 -41.40 751.00L-41.40 726.00Q-41.40 719.00 -36.45 714.05Z" fill="#fff" stroke="#000" stroke-width="2.4"/><circle cy="738.5" r="34.8" fill="#fff" stroke="#000" stroke-width="2.5"/><circle cy="738.5" r="11.6" fill="#fff" stroke="#000" stroke-width="2.5"/></g></g>
<g transform="translate(673.00,0)"><rect x="-62" y="601" width="124" height="199" fill="#fff" stroke="#000" stroke-width="5.6"/><circle cy="648" r="22.1" fill="#fff" stroke="#000" stroke-width="2.5"/><circle cy="648" r="11" fill="#fff" stroke="#000" stroke-width="2.5"/><g transform="translate(0.7,0)"><path d="M-24.45 702.05Q-19.50 697.10 -12.50 697.10L12.50 697.10Q19.50 697.10 24.45 702.05L36.45 714.05Q41.40 719.00 41.40 726.00L41.40 751.00Q41.40 758.00 36.45 762.95L24.45 774.95Q19.50 779.90 12.50 779.90L-12.50 779.90Q-19.50 779.90 -24.45 774.95L-36.45 762.95Q-41.40 758.00 -41.40 751.00L-41.40 726.00Q-41.40 719.00 -36.45 714.05Z" fill="#fff" stroke="#000" stroke-width="2.4"/><circle cy="738.5" r="34.8" fill="#fff" stroke="#000" stroke-width="2.5"/><circle cy="738.5" r="11.6" fill="#fff" stroke="#000" stroke-width="2.5"/></g></g>
<g transform="translate(841.40,0)"><rect x="-62" y="601" width="124" height="199" fill="#fff" stroke="#000" stroke-width="5.6"/><circle cy="648" r="22.1" fill="#fff" stroke="#000" stroke-width="2.5"/><circle cy="648" r="11" fill="#fff" stroke="#000" stroke-width="2.5"/><g transform="translate(0.7,0)"><path d="M-24.45 702.05Q-19.50 697.10 -12.50 697.10L12.50 697.10Q19.50 697.10 24.45 702.05L36.45 714.05Q41.40 719.00 41.40 726.00L41.40 751.00Q41.40 758.00 36.45 762.95L24.45 774.95Q19.50 779.90 12.50 779.90L-12.50 779.90Q-19.50 779.90 -24.45 774.95L-36.45 762.95Q-41.40 758.00 -41.40 751.00L-41.40 726.00Q-41.40 719.00 -36.45 714.05Z" fill="#fff" stroke="#000" stroke-width="2.4"/><circle cy="738.5" r="34.8" fill="#fff" stroke="#000" stroke-width="2.5"/><circle cy="738.5" r="11.6" fill="#fff" stroke="#000" stroke-width="2.5"/></g></g>
<g transform="translate(1009.60,0)"><rect x="-62" y="601" width="124" height="199" fill="#fff" stroke="#000" stroke-width="5.6"/><circle cy="648" r="22.1" fill="#fff" stroke="#000" stroke-width="2.5"/><circle cy="648" r="11" fill="#fff" stroke="#000" stroke-width="2.5"/><g transform="translate(0.7,0)"><path d="M-24.45 702.05Q-19.50 697.10 -12.50 697.10L12.50 697.10Q19.50 697.10 24.45 702.05L36.45 714.05Q41.40 719.00 41.40 726.00L41.40 751.00Q41.40 758.00 36.45 762.95L24.45 774.95Q19.50 779.90 12.50 779.90L-12.50 779.90Q-19.50 779.90 -24.45 774.95L-36.45 762.95Q-41.40 758.00 -41.40 751.00L-41.40 726.00Q-41.40 719.00 -36.45 714.05Z" fill="#fff" stroke="#000" stroke-width="2.4"/><circle cy="738.5" r="34.8" fill="#fff" stroke="#000" stroke-width="2.5"/><circle cy="738.5" r="11.6" fill="#fff" stroke="#000" stroke-width="2.5"/></g></g>
<g transform="translate(1177.90,0)"><rect x="-62" y="601" width="124" height="199" fill="#fff" stroke="#000" stroke-width="5.6"/><circle cy="648" r="22.1" fill="#fff" stroke="#000" stroke-width="2.5"/><circle cy="648" r="11" fill="#fff" stroke="#000" stroke-width="2.5"/><g transform="translate(0.7,0)"><path d="M-24.45 702.05Q-19.50 697.10 -12.50 697.10L12.50 697.10Q19.50 697.10 24.45 702.05L36.45 714.05Q41.40 719.00 41.40 726.00L41.40 751.00Q41.40 758.00 36.45 762.95L24.45 774.95Q19.50 779.90 12.50 779.90L-12.50 779.90Q-19.50 779.90 -24.45 774.95L-36.45 762.95Q-41.40 758.00 -41.40 751.00L-41.40 726.00Q-41.40 719.00 -36.45 714.05Z" fill="#fff" stroke="#000" stroke-width="2.4"/><circle cy="738.5" r="34.8" fill="#fff" stroke="#000" stroke-width="2.5"/><circle cy="738.5" r="11.6" fill="#fff" stroke="#000" stroke-width="2.5"/></g></g>
<g transform="translate(1346.00,0)"><rect x="-62" y="601" width="124" height="199" fill="#fff" stroke="#000" stroke-width="5.6"/><circle cy="648" r="22.1" fill="#fff" stroke="#000" stroke-width="2.5"/><circle cy="648" r="11" fill="#fff" stroke="#000" stroke-width="2.5"/><g transform="translate(0.7,0)"><path d="M-24.45 702.05Q-19.50 697.10 -12.50 697.10L12.50 697.10Q19.50 697.10 24.45 702.05L36.45 714.05Q41.40 719.00 41.40 726.00L41.40 751.00Q41.40 758.00 36.45 762.95L24.45 774.95Q19.50 779.90 12.50 779.90L-12.50 779.90Q-19.50 779.90 -24.45 774.95L-36.45 762.95Q-41.40 758.00 -41.40 751.00L-41.40 726.00Q-41.40 719.00 -36.45 714.05Z" fill="#fff" stroke="#000" stroke-width="2.4"/><circle cy="738.5" r="34.8" fill="#fff" stroke="#000" stroke-width="2.5"/><circle cy="738.5" r="11.6" fill="#fff" stroke="#000" stroke-width="2.5"/></g></g>
</g>
<g id="sub" fill="#fff" stroke="#000">
<path d="M2.5 799.7V652L37 606.2H158L192.1 652V799.7Z" stroke-width="5"/>
<path d="M13 641.8H180" stroke-width="2"/>
<path d="M0 651.8H194" stroke-width="5.2"/>
<rect x="6.9" y="658.6" width="180.2" height="123" stroke-width="2.4"/>
<path d="M5 656.7H189.6V781" stroke-width="1" fill="none"/>
<path d="M5 781.8H190" stroke-width="3"/>
<path d="M5 786.4H190" stroke-width="1.4"/>
<path d="M20.3 786.6H42.8L41.3 790.9H21.8Z" stroke-width="1.4"/>
<path d="M150.9 786.6H174L172.5 790.9H152.4Z" stroke-width="1.4"/>
</g>
<g transform="translate(1849.60,0)" stroke="#000" fill="#80cfcf"><path d="M-63.3 752.4V681.7A63.3 24.4 0 0 1 63.3 681.7V752.4Z" stroke-width="5.2"/><path d="M-63 722.8H63" stroke-width="2.6"/><ellipse cy="688.4" rx="45" ry="22.9" stroke-width="2.8"/><ellipse cy="688.5" rx="32" ry="12.6" stroke-width="2.8"/><path d="M-10.2 698.6A11.5 6.4 0 0 1 12.8 698.6" stroke-width="2.6"/></g>
<g transform="translate(2017.60,0)" stroke="#000" fill="#80cfcf"><path d="M-63.3 752.4V681.7A63.3 24.4 0 0 1 63.3 681.7V752.4Z" stroke-width="5.2"/><path d="M-63 722.8H63" stroke-width="2.6"/><ellipse cy="688.4" rx="45" ry="22.9" stroke-width="2.8"/><ellipse cy="688.5" rx="32" ry="12.6" stroke-width="2.8"/><path d="M-10.2 698.6A11.5 6.4 0 0 1 12.8 698.6" stroke-width="2.6"/></g>
<rect x="1780.3" y="819.1" width="139.2" height="79.5" fill="#80cfcf" stroke="#000" stroke-width="6.5"/>
<rect x="1947.6" y="819.1" width="138.8" height="79.5" fill="#80cfcf" stroke="#000" stroke-width="6.5"/>
<rect x="1750.1" y="916.3" width="363.5" height="79.4" fill="#fff" stroke="#000" stroke-width="3.6"/>
<text transform="translate(50.46,888.25) scale(1.0423,1)" font-size="54.80" font-weight="bold" fill="#000" stroke="#000" stroke-width="1.3" stroke-linejoin="miter" >SW</text>
<text transform="translate(302.39,888.25) scale(0.9210,1)" font-size="54.80" font-weight="bold" fill="#000" stroke="#000" stroke-width="1.3" stroke-linejoin="miter" >FR</text>
<text transform="translate(474.49,888.25) scale(0.9202,1)" font-size="54.80" font-weight="bold" fill="#000" stroke="#000" stroke-width="1.3" stroke-linejoin="miter" >FL</text>
<text transform="translate(653.73,888.25) scale(0.9518,1)" font-size="54.80" font-weight="bold" fill="#000" stroke="#000" stroke-width="1.3" stroke-linejoin="miter" >C</text>
<text transform="translate(804.74,888.25) scale(0.9613,1)" font-size="54.80" font-weight="bold" fill="#000" stroke="#000" stroke-width="1.3" stroke-linejoin="miter" >SR</text>
<text transform="translate(975.63,888.25) scale(0.9777,1)" font-size="54.80" font-weight="bold" fill="#000" stroke="#000" stroke-width="1.3" stroke-linejoin="miter" >SL</text>
<text transform="translate(1121.74,888.25) scale(0.9643,1)" font-size="54.80" font-weight="bold" fill="#000" stroke="#000" stroke-width="1.3" stroke-linejoin="miter" >SBR</text>
<text transform="translate(1292.64,888.25) scale(0.9693,1)" font-size="54.80" font-weight="bold" fill="#000" stroke="#000" stroke-width="1.3" stroke-linejoin="miter" >SBL</text>
<text transform="translate(1796.88,878.85) scale(0.9562,1)" font-size="54.80" font-weight="bold" fill="#000" stroke="#000" stroke-width="1.3" stroke-linejoin="miter" >FDR</text>
<text transform="translate(1966.86,878.85) scale(0.9629,1)" font-size="54.80" font-weight="bold" fill="#000" stroke="#000" stroke-width="1.3" stroke-linejoin="miter" >FDL</text>
<text transform="translate(1782.13,979.35) scale(0.9760,1)" font-size="56.25" font-weight="bold" fill="#000" stroke="#000" stroke-width="1.3" stroke-linejoin="miter" >HEIGHT</text>
<path d="M2030.7 939.9V980H2021.2V953.8H2010.8V947.3Q2021.6 946.8 2023.8 939.9Z" fill="#000"/>
<g transform="translate(2060.8,947.3)"><path transform="rotate(0)" d="M0 0.5L-3 -10.6A3.05 3.05 0 1 1 3 -10.6Z" fill="#000"/><path transform="rotate(60)" d="M0 0.5L-3 -10.6A3.05 3.05 0 1 1 3 -10.6Z" fill="#000"/><path transform="rotate(120)" d="M0 0.5L-3 -10.6A3.05 3.05 0 1 1 3 -10.6Z" fill="#000"/><path transform="rotate(180)" d="M0 0.5L-3 -10.6A3.05 3.05 0 1 1 3 -10.6Z" fill="#000"/><path transform="rotate(240)" d="M0 0.5L-3 -10.6A3.05 3.05 0 1 1 3 -10.6Z" fill="#000"/><path transform="rotate(300)" d="M0 0.5L-3 -10.6A3.05 3.05 0 1 1 3 -10.6Z" fill="#000"/></g>
</svg></body></html>
